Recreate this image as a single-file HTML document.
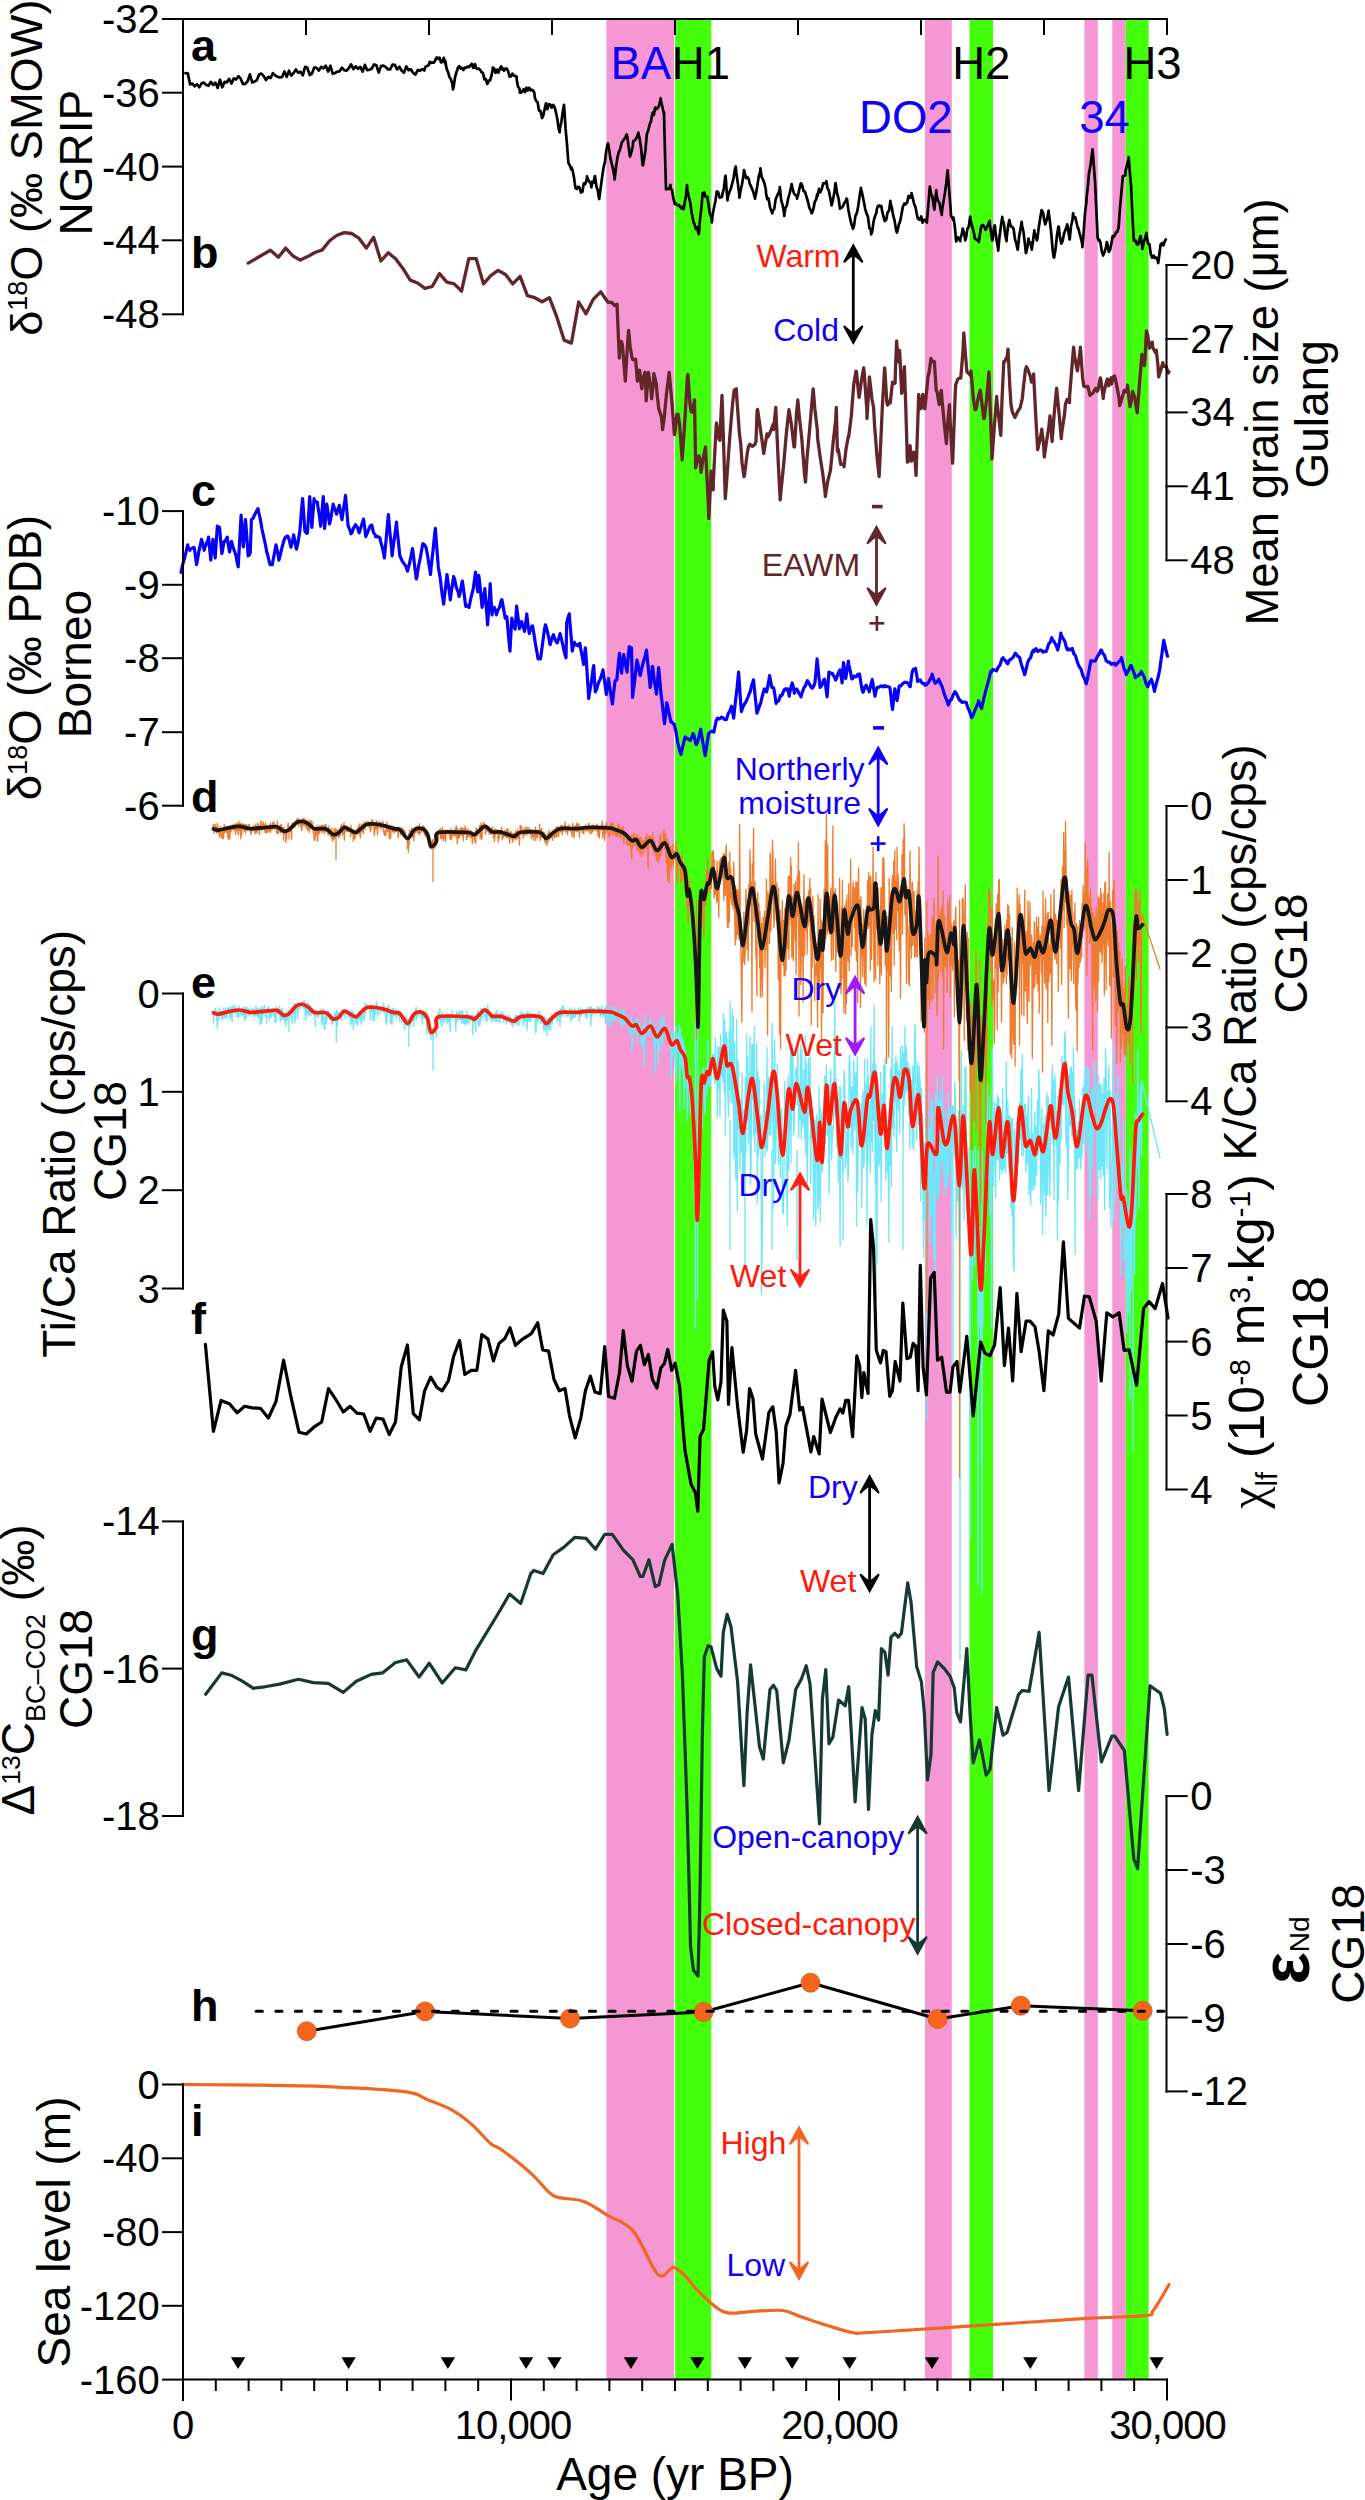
<!DOCTYPE html><html><head><meta charset="utf-8"><style>html,body{margin:0;padding:0;background:#fff;}svg{display:block;}text{font-family:"Liberation Sans", sans-serif;}</style></head><body>
<svg width="1365" height="2500" viewBox="0 0 1365 2500">
<rect x="0" y="0" width="1365" height="2500" fill="#fff"/>
<rect x="606.4" y="20" width="67.6" height="2359.5" fill="#F497D2"/>
<rect x="675.1" y="20" width="36.2" height="2359.5" fill="#43FF0C"/>
<rect x="925" y="20" width="26.8" height="2359.5" fill="#F497D2"/>
<rect x="969.5" y="20" width="23.5" height="2359.5" fill="#43FF0C"/>
<rect x="1084.4" y="20" width="13.4" height="2359.5" fill="#F497D2"/>
<rect x="1112.3" y="20" width="13.4" height="2359.5" fill="#F497D2"/>
<rect x="1125.7" y="20" width="22.9" height="2359.5" fill="#43FF0C"/>
<polyline points="185.5,73.1 187.8,73.3 190.1,84.5 192.4,83.6 194.7,86.3 197.0,84.3 199.3,87.3 201.6,83.3 203.9,82.6 206.2,85.0 208.5,85.8 210.8,81.9 213.1,85.0 215.4,82.8 217.7,87.9 220.0,79.7 222.3,87.3 224.6,81.9 226.9,82.3 229.2,78.8 231.5,83.5 233.8,78.4 236.1,79.4 238.4,76.2 240.7,78.7 243.0,84.1 245.3,83.8 247.6,81.4 249.9,74.4 252.2,82.5 254.5,81.5 256.8,80.3 259.1,74.6 261.4,73.6 263.7,76.1 266.0,80.0 268.3,76.9 270.6,78.0 272.9,73.1 275.2,75.4 277.5,76.8 279.8,77.5 282.1,77.0 284.4,71.5 286.7,76.9 289.0,70.7 291.3,75.6 293.6,73.1 295.9,69.4 298.2,72.7 300.5,71.7 302.8,75.4 305.1,66.8 307.4,67.8 309.7,75.0 312.0,73.5 314.3,67.3 316.6,67.8 318.9,70.5 321.2,66.9 323.5,68.3 325.8,65.7 328.1,71.5 330.4,65.7 332.7,73.8 335.0,73.0 337.3,71.6 339.6,71.4 341.9,67.6 344.2,70.2 346.5,70.8 348.8,68.2 351.1,64.3 353.4,69.2 355.7,66.4 358.0,68.8 360.3,66.9 362.6,71.6 364.9,64.9 367.2,70.2 369.5,69.7 371.8,68.5 374.1,64.4 376.4,65.3 378.7,72.6 381.0,66.1 383.3,65.6 385.6,66.9 387.9,69.3 390.2,69.3 392.5,64.7 394.8,64.9 397.1,69.4 399.4,66.8 401.7,70.7 404.0,72.6 406.3,66.4 408.6,70.2 410.9,69.4 413.2,73.0 415.5,74.6 417.8,69.9 420.0,70.8 421.4,69.5 422.8,69.2 424.2,70.5 425.6,66.6 427.0,65.9 428.4,65.4 429.8,61.8 431.2,62.9 432.6,62.6 434.0,62.7 435.4,59.8 436.8,57.4 438.2,58.9 439.6,57.6 441.0,62.4 442.4,61.8 443.8,57.8 445.2,64.0 445.3,60.9 446.6,68.7 448.0,71.9 449.4,76.9 450.8,79.1 452.2,83.4 453.0,89.5 453.6,87.0 455.0,77.7 456.4,72.2 457.4,69.7 457.8,67.9 459.2,66.1 460.6,68.5 462.0,67.9 463.4,70.0 464.8,67.5 466.2,67.8 467.6,66.5 469.0,67.1 470.4,65.4 471.8,63.8 473.2,67.9 474.6,67.5 475.0,64.2 476.0,67.8 477.4,69.0 478.8,68.5 480.2,69.9 481.6,72.3 483.0,73.0 484.4,79.4 485.8,79.1 487.2,84.0 488.0,82.9 488.6,80.6 490.0,80.5 491.4,76.0 492.5,70.8 492.8,67.5 494.2,68.6 495.6,72.8 497.0,69.7 498.4,72.7 499.8,68.7 501.2,66.3 502.6,69.6 503.5,68.6 504.0,70.8 505.4,68.7 506.8,68.7 508.2,71.4 509.6,76.7 511.0,76.5 512.4,73.6 513.8,75.6 515.2,75.8 516.6,76.7 516.7,79.6 518.0,86.7 519.4,88.3 520.0,92.7 520.8,92.7 522.2,91.4 523.6,89.2 525.0,92.1 526.4,87.7 527.7,89.5 527.8,90.5 529.2,87.8 530.6,90.4 532.0,89.7 533.4,90.8 534.3,92.7 534.8,97.4 536.2,100.9 537.6,102.3 539.0,110.6 540.4,110.9 541.8,116.7 542.0,118.0 543.2,115.9 544.6,109.5 545.3,106.0 546.0,103.4 547.4,109.1 548.8,104.2 550.2,104.5 551.6,107.7 553.0,104.9 554.0,106.0 554.4,106.6 555.8,111.7 557.2,118.4 558.6,128.1 559.6,132.3 560.0,128.2 561.4,121.7 562.8,111.5 564.0,104.8 564.2,107.1 565.6,128.9 567.0,144.4 568.4,163.0 569.8,165.4 571.2,169.3 571.6,167.5 572.6,170.6 574.0,177.6 575.0,185.0 575.4,188.0 576.8,188.9 578.2,186.6 579.6,187.7 581.0,192.6 581.5,191.6 582.4,191.9 583.8,183.3 585.2,184.2 586.6,179.9 587.0,176.3 588.0,179.5 589.4,181.8 590.8,183.3 591.4,187.3 592.2,181.7 593.6,182.9 594.7,176.3 595.0,176.2 596.4,186.3 597.8,190.5 599.0,198.2 599.2,199.0 600.6,188.8 602.0,178.0 603.4,168.5 604.6,163.0 604.8,163.3 606.2,151.0 607.6,143.9 608.0,143.3 609.0,148.9 610.4,158.1 611.8,164.0 613.2,169.2 614.5,177.4 614.6,179.5 616.0,167.0 617.4,157.9 618.8,151.7 619.0,152.0 620.2,148.9 621.6,143.2 623.0,140.7 624.4,138.7 625.8,136.8 626.6,134.5 627.2,136.0 628.6,146.6 630.0,156.5 631.4,152.2 632.8,146.0 633.2,141.0 634.2,140.8 635.6,139.4 637.0,137.0 638.4,132.6 638.7,134.5 639.8,139.4 641.2,149.3 642.6,165.1 643.0,165.3 644.0,159.3 645.4,150.7 646.8,134.4 647.5,132.3 648.2,130.7 649.6,124.6 651.0,121.2 652.4,113.5 653.0,112.5 653.8,114.9 655.2,107.5 656.6,109.1 657.4,108.0 658.0,107.7 659.4,104.6 660.7,98.2 660.8,100.2 662.2,106.0 663.6,112.6 664.0,112.5 665.0,153.7 666.0,189.5 666.4,188.2 667.8,188.9 669.2,188.9 670.5,185.0 670.6,187.8 672.0,190.3 673.4,198.2 674.8,204.1 675.0,202.6 676.2,204.0 677.6,205.4 679.0,204.9 680.4,207.2 681.8,208.5 683.2,206.1 683.7,209.2 684.6,203.5 686.0,195.5 687.0,185.0 687.4,189.7 688.8,196.7 690.2,202.4 691.6,212.6 693.0,219.5 693.6,222.4 694.4,223.6 695.8,229.0 697.2,227.1 698.6,234.2 699.0,233.4 700.0,219.5 701.4,207.8 702.7,193.0 702.8,193.0 704.2,192.5 705.6,196.7 707.0,196.5 707.3,196.8 708.4,203.7 709.8,213.4 711.2,216.9 711.9,222.4 712.6,214.8 714.0,207.8 715.4,201.2 716.5,193.1 716.8,191.4 718.2,192.1 719.6,197.8 721.0,197.2 722.0,196.8 722.4,194.1 723.8,188.8 725.2,176.9 725.6,175.7 726.6,189.8 727.5,200.4 728.0,196.4 729.4,192.1 730.8,188.8 732.2,183.7 733.6,177.7 735.0,168.7 735.7,166.6 736.4,173.0 737.8,183.1 739.2,193.7 739.4,197.7 740.6,190.5 742.0,184.3 743.4,176.0 744.0,170.2 744.8,173.4 746.2,178.2 747.6,177.1 749.0,179.7 749.5,183.0 750.4,185.2 751.8,188.1 753.2,191.7 754.6,196.9 755.0,198.6 756.0,193.8 757.4,185.1 758.8,176.2 760.2,171.7 760.4,168.4 761.6,176.8 763.0,179.6 764.4,183.3 765.8,189.2 766.0,193.1 767.2,199.3 768.6,198.5 770.0,207.3 771.4,210.9 772.3,213.3 772.8,210.5 774.2,209.1 775.6,199.6 777.0,195.9 778.4,193.4 779.7,189.5 779.8,187.0 781.2,200.4 782.6,204.9 784.0,212.5 784.2,216.0 785.4,207.9 786.8,205.6 788.2,198.4 789.6,193.5 791.0,187.6 791.6,184.0 792.4,188.1 793.8,192.9 795.2,194.9 796.6,195.6 797.0,198.6 798.0,195.3 799.4,188.9 800.8,183.4 801.6,184.0 802.2,185.6 803.6,191.2 805.0,191.8 806.4,196.5 807.8,201.0 809.2,207.3 810.6,210.2 811.7,213.3 812.0,213.0 813.4,209.0 814.8,201.7 816.2,199.4 817.2,194.0 817.6,196.0 819.0,188.9 820.4,192.3 821.8,189.0 823.2,183.3 824.6,183.4 826.0,182.6 826.4,181.2 827.4,188.0 828.8,190.4 830.2,197.5 831.6,205.3 831.9,204.1 833.0,199.6 834.4,192.3 835.5,183.0 835.8,184.5 837.2,193.7 838.6,198.8 840.0,208.7 841.4,207.9 842.8,206.4 844.2,203.1 845.6,201.4 846.5,198.6 847.0,199.1 848.4,210.0 849.8,217.0 851.2,223.5 852.6,227.2 853.0,228.8 854.0,225.9 855.4,216.1 856.8,213.2 858.2,206.2 859.6,196.2 861.0,187.8 861.2,189.5 862.4,194.5 863.8,201.5 865.2,209.1 866.6,213.6 868.0,216.9 869.4,228.2 870.8,229.7 871.2,234.3 872.2,231.7 873.6,221.4 875.0,216.2 876.4,212.8 876.7,209.6 877.8,206.4 879.2,205.4 880.6,206.7 881.3,206.0 882.0,210.2 883.4,216.5 884.8,221.0 885.0,220.6 886.2,219.7 887.6,212.3 889.0,210.8 890.4,200.9 890.5,203.2 891.8,207.4 893.2,215.7 894.6,220.6 896.0,229.8 896.9,232.5 897.4,231.3 898.8,224.8 900.2,221.0 901.6,213.4 903.0,206.0 903.3,206.0 904.4,203.5 905.8,204.3 907.2,202.4 908.6,195.8 910.0,197.7 911.4,196.3 911.5,193.1 912.8,198.4 914.2,204.2 915.6,207.4 917.0,215.1 918.0,218.8 918.4,218.9 919.8,219.8 921.2,216.4 922.6,222.7 924.0,220.1 925.4,219.6 926.8,222.5 927.0,220.6 928.2,206.5 929.6,189.1 929.8,186.7 931.0,193.9 932.4,196.9 933.8,206.9 934.4,209.6 935.2,201.0 936.3,190.4 936.6,194.7 938.0,200.7 939.4,202.8 940.8,210.4 941.8,215.0 942.2,209.5 943.6,200.7 945.0,192.4 946.4,182.2 947.6,170.4 947.8,172.9 949.2,190.6 950.6,208.6 951.0,215.9 952.0,217.3 953.4,220.3 953.5,217.6 954.8,226.6 956.0,239.5 956.2,241.4 957.6,237.1 959.0,238.8 960.2,241.2 960.4,238.4 961.8,234.3 962.7,228.6 963.2,229.7 964.6,236.3 965.3,240.4 966.0,238.1 967.4,228.7 968.8,226.5 970.2,216.5 970.3,218.5 971.6,224.5 973.0,229.3 974.4,235.4 974.5,237.8 975.8,239.3 977.2,240.0 978.6,241.0 978.8,242.0 980.0,233.8 981.3,226.0 981.4,226.3 982.8,225.0 984.2,226.5 985.5,229.4 985.6,230.0 987.0,227.3 988.4,223.8 989.7,221.0 989.8,224.0 991.2,233.4 992.2,240.4 992.6,240.3 994.0,228.2 994.8,225.2 995.4,231.0 996.8,241.5 998.1,248.8 998.2,250.6 999.6,236.2 1001.0,225.5 1002.3,216.8 1002.4,220.0 1003.8,222.6 1005.2,234.8 1006.6,241.2 1006.6,238.7 1008.0,226.4 1009.1,221.0 1009.4,220.0 1010.8,226.5 1012.2,226.8 1013.6,229.0 1014.1,232.8 1015.0,239.4 1016.4,243.7 1017.5,249.6 1017.8,249.5 1019.2,236.0 1020.6,228.5 1021.7,221.8 1022.0,225.2 1023.4,231.3 1024.8,242.9 1025.9,253.0 1026.2,252.5 1027.6,246.3 1028.5,238.7 1029.0,243.3 1030.4,242.5 1031.8,249.6 1033.2,239.2 1034.4,230.3 1034.6,232.8 1036.0,236.8 1036.9,240.4 1037.4,238.6 1038.8,227.2 1040.2,218.2 1041.6,210.1 1041.9,210.9 1043.0,212.3 1044.4,221.2 1045.3,224.4 1045.8,222.8 1047.2,218.2 1048.6,210.7 1048.7,212.6 1050.0,222.2 1051.4,234.8 1052.8,251.3 1053.7,257.2 1054.2,257.4 1055.6,248.6 1057.0,235.0 1058.4,226.5 1058.8,226.9 1059.8,236.5 1061.2,242.8 1061.3,243.7 1062.6,241.1 1064.0,233.8 1065.4,230.1 1066.8,225.8 1067.2,224.4 1068.2,230.0 1069.6,239.5 1069.7,239.5 1071.0,226.4 1072.4,220.1 1073.1,213.4 1073.8,217.6 1075.2,217.2 1076.6,222.9 1078.0,228.7 1078.2,227.7 1079.4,232.6 1080.8,237.8 1082.2,244.0 1082.4,247.1 1083.6,233.0 1085.0,213.2 1086.4,202.3 1086.6,197.4 1087.8,187.2 1089.1,172.1 1089.2,172.7 1090.6,164.4 1092.0,153.6 1092.5,149.4 1093.4,160.0 1094.8,178.6 1095.0,180.5 1096.2,206.4 1097.5,234.5 1097.6,237.9 1099.0,240.9 1099.2,239.5 1100.4,242.3 1101.8,251.5 1103.2,255.5 1103.4,254.7 1104.6,252.0 1106.0,247.0 1106.8,242.0 1107.4,243.6 1108.8,252.0 1109.3,251.3 1110.2,249.7 1111.6,242.3 1112.7,236.1 1113.0,237.5 1114.4,236.1 1115.8,232.5 1116.1,232.8 1117.2,232.0 1118.6,227.7 1120.0,207.8 1121.4,192.4 1122.8,176.3 1124.2,175.7 1125.3,175.5 1125.6,170.7 1127.0,165.3 1128.4,159.5 1128.7,157.0 1129.8,171.9 1131.2,187.3 1131.2,189.0 1132.6,219.0 1133.8,239.5 1134.0,240.8 1135.4,240.4 1136.8,244.2 1138.0,244.6 1138.2,244.4 1139.6,239.4 1140.5,236.1 1141.0,238.4 1142.2,246.3 1142.4,248.9 1143.8,242.1 1145.2,237.9 1146.4,232.8 1146.6,235.4 1148.0,243.4 1149.4,243.9 1150.8,254.3 1151.2,255.5 1152.2,257.7 1153.6,255.6 1154.8,258.0 1155.0,257.7 1156.4,257.5 1157.8,260.6 1158.2,263.1 1159.2,255.6 1160.6,244.4 1160.7,246.3 1162.0,243.0 1163.4,245.3 1164.8,241.2 1165.8,239.5" fill="none" stroke="#000" stroke-width="2.7" stroke-linejoin="round" stroke-linecap="round" />
<polyline points="248.2,263.1 257.8,257.5 270.4,250.2 278.4,257.2 285.7,248.1 293.0,256.0 300.3,260.1 307.7,256.6 315.0,252.5 322.3,249.9 329.6,240.8 337.0,235.2 344.3,232.6 351.6,233.5 358.9,238.2 366.3,248.1 373.6,237.3 380.9,261.0 388.2,252.8 395.6,258.7 402.9,268.4 410.2,280.1 417.5,283.0 424.9,288.3 432.2,286.5 439.5,273.6 446.8,282.1 454.2,283.9 461.5,291.2 468.8,258.7 476.2,258.7 483.5,283.9 490.8,275.7 498.1,270.4 505.5,274.5 512.8,283.9 520.1,276.3 527.4,295.6 534.8,297.7 542.1,301.8 549.4,297.7 556.7,316.7 564.1,340.1 571.4,343.1 578.7,302.0 586.0,313.8 593.4,299.1 600.7,291.8 607.7,302.0 612.0,302.7 614.6,305.5 617.1,304.2 617.2,308.6 619.3,358.0 619.8,350.0 621.5,341.5 622.4,345.0 625.0,376.5 625.3,381.1 627.6,343.1 628.6,330.5 630.2,347.0 631.9,356.9 632.8,359.7 635.4,360.2 635.6,359.1 637.4,381.1 638.0,378.8 639.6,370.1 640.6,380.5 641.8,388.8 643.2,377.5 645.1,372.3 645.8,389.8 646.2,400.9 648.4,372.3 651.0,389.7 651.6,398.7 653.6,380.6 653.8,373.4 656.2,383.3 657.1,394.3 658.8,409.0 661.4,416.7 662.6,429.5 664.0,419.6 666.6,392.9 669.2,372.3 671.8,400.6 672.5,409.7 674.4,434.6 674.7,433.8 677.0,414.3 678.0,414.1 679.6,424.4 682.2,459.9 682.4,456.9 684.8,421.1 687.4,377.1 687.9,374.5 690.0,404.1 691.2,411.9 692.6,412.1 694.5,399.8 695.2,438.5 695.6,467.9 697.8,458.9 698.9,455.8 700.4,462.7 701.1,472.3 703.0,459.1 705.5,447.0 705.6,450.6 708.2,501.5 708.8,518.5 710.8,477.9 711.0,471.2 713.2,489.9 713.4,480.5 716.0,429.1 716.5,422.9 718.6,437.8 719.8,440.4 721.2,410.6 722.0,395.4 723.8,450.8 725.3,498.7 726.4,484.7 729.0,447.5 729.7,438.2 731.6,414.7 733.0,399.8 734.2,390.2 736.3,388.8 736.8,397.8 739.4,433.1 740.7,443.7 742.0,462.4 744.0,476.7 744.6,474.6 747.2,453.4 748.4,447.0 749.8,444.3 752.4,446.4 755.0,444.3 756.0,441.5 757.1,410.8 757.6,409.4 760.2,427.7 762.8,446.1 763.7,453.6 765.4,443.5 767.0,433.8 768.0,436.9 770.6,431.5 773.2,424.1 773.6,429.5 775.8,407.5 778.4,465.9 780.2,499.8 781.0,490.8 783.6,465.2 786.2,435.0 788.8,410.9 789.0,409.7 791.4,424.6 794.0,446.9 794.5,447.0 796.6,412.2 797.8,399.8 799.2,415.4 801.8,438.7 804.4,472.8 805.5,482.2 807.0,458.4 809.6,429.8 812.2,399.1 813.2,388.8 814.8,408.4 817.4,430.6 817.6,438.2 820.0,455.9 822.6,472.6 825.2,493.1 825.3,496.5 827.8,480.8 830.4,470.6 831.9,455.8 833.0,443.5 835.6,420.7 836.3,407.5 837.4,451.4 838.2,449.3 840.8,464.4 843.4,463.8 844.0,466.8 846.0,449.1 848.4,436.0 848.6,437.3 851.2,417.1 853.8,384.0 856.0,371.2 856.4,371.5 859.0,397.4 859.3,396.5 861.6,379.7 863.7,367.9 864.2,372.5 866.8,409.5 867.0,418.5 869.2,381.1 869.4,376.8 872.0,399.3 873.6,407.5 874.6,425.9 877.2,458.8 879.1,476.7 879.8,462.9 882.4,405.7 884.6,367.9 885.0,372.0 886.8,402.0 887.6,405.1 890.0,400.5 890.2,403.0 892.5,382.1 892.8,383.9 895.1,383.1 895.4,371.4 896.6,341.0 898.0,359.3 898.2,361.5 899.6,350.3 900.6,370.5 901.7,393.3 903.2,380.0 904.4,366.7 905.8,408.4 907.4,462.1 908.4,461.3 910.1,445.6 911.0,460.2 911.5,461.0 913.6,452.1 914.6,453.8 916.1,475.4 916.2,469.8 918.7,394.4 918.8,399.6 920.8,408.7 921.4,401.7 922.8,394.4 924.0,407.9 924.9,408.7 926.6,391.4 928.0,376.9 929.2,371.9 931.0,358.5 931.8,361.7 934.1,361.5 934.4,362.2 936.2,390.3 937.0,391.5 939.2,404.6 939.6,398.9 941.3,390.3 942.2,401.9 944.8,429.2 946.4,443.6 947.4,426.6 949.5,404.6 950.0,418.7 952.6,463.1 955.2,394.5 955.6,385.1 957.8,379.0 960.4,377.8 960.8,378.0 963.0,350.6 963.8,332.8 965.6,356.2 966.9,371.8 968.2,373.0 970.8,375.9 971.0,370.8 973.4,399.1 975.1,409.7 976.0,409.5 978.6,395.7 980.3,390.3 981.2,397.4 983.8,418.7 984.4,417.9 986.4,400.9 988.9,371.8 989.0,375.6 991.6,445.9 992.0,459.0 994.2,428.1 996.7,396.4 996.8,400.2 999.4,422.8 1000.8,435.4 1002.0,400.0 1003.8,361.5 1004.6,361.7 1007.2,356.4 1008.0,349.2 1009.8,386.0 1011.0,404.6 1012.4,412.1 1015.0,417.4 1016.2,414.9 1017.6,411.6 1020.2,407.6 1022.3,398.5 1022.8,393.2 1025.4,369.6 1026.4,366.7 1028.0,369.8 1030.6,377.1 1031.5,382.1 1033.2,380.6 1033.6,373.8 1035.8,416.8 1037.7,449.7 1038.4,446.7 1041.0,434.7 1041.8,429.2 1043.6,444.6 1044.3,456.9 1046.2,443.6 1048.8,426.9 1050.0,415.9 1051.4,431.7 1052.1,441.5 1054.0,415.9 1056.6,388.2 1059.2,414.9 1061.3,438.5 1061.8,432.2 1064.4,415.1 1065.4,404.6 1067.0,399.5 1069.5,402.6 1069.6,396.3 1072.2,363.9 1073.6,347.2 1074.8,357.3 1077.1,369.7 1077.4,370.8 1080.0,351.8 1080.4,347.2 1082.6,377.7 1083.8,386.2 1085.2,386.7 1087.8,386.5 1090.0,395.4 1090.4,395.0 1093.0,393.0 1095.6,388.4 1097.2,391.3 1098.2,389.0 1100.3,377.9 1100.8,379.4 1103.3,398.5 1103.4,394.9 1106.0,383.6 1107.4,379.0 1108.6,385.8 1111.2,377.8 1111.5,384.1 1113.8,376.3 1114.6,375.9 1116.4,383.7 1119.0,397.9 1119.7,405.6 1121.6,399.8 1124.2,390.4 1126.8,392.0 1127.5,385.1 1129.4,401.5 1130.0,406.7 1132.0,396.8 1132.5,391.3 1134.6,396.9 1137.2,412.8 1139.8,380.1 1141.9,354.4 1142.4,357.9 1144.4,365.6 1145.0,359.3 1146.4,330.8 1147.6,334.5 1149.5,348.2 1150.2,346.1 1152.2,342.1 1152.8,347.6 1155.4,352.5 1156.3,350.3 1158.0,365.9 1158.7,376.9 1160.6,370.7 1162.8,362.6 1163.2,366.3 1165.8,365.8 1168.4,373.0 1169.0,371.8" fill="none" stroke="#62262A" stroke-width="3.3" stroke-linejoin="round" stroke-linecap="round" />
<polyline points="181.0,572.3 182.8,564.1 184.6,558.1 186.4,550.7 187.7,544.8 188.2,547.2 189.9,550.3 190.0,549.2 191.8,548.5 193.6,547.3 194.3,548.1 195.4,555.5 196.5,564.6 197.2,561.8 199.0,550.8 200.8,542.9 201.5,539.3 202.6,542.9 204.2,550.3 204.4,549.0 206.2,544.1 208.0,540.0 208.6,537.1 209.8,550.0 210.8,560.2 211.6,551.0 213.0,539.3 213.4,542.0 215.2,558.0 217.0,530.9 217.4,526.2 218.8,528.1 219.6,527.3 220.6,540.2 221.8,553.6 222.4,551.3 224.0,541.5 224.2,542.3 226.0,539.6 227.3,537.1 227.8,541.8 229.5,551.4 229.6,551.9 231.4,541.7 231.6,541.5 233.2,547.8 235.0,552.5 236.0,555.8 236.8,560.6 238.2,566.8 238.6,559.9 240.4,527.4 241.1,515.2 242.2,530.7 243.3,547.0 244.0,538.1 245.5,519.6 245.8,523.2 247.6,547.6 248.1,555.8 249.4,554.9 250.3,552.5 251.2,526.5 251.4,519.6 253.0,518.5 254.8,514.5 256.6,511.1 258.0,508.6 258.4,511.4 260.2,518.4 262.0,529.1 263.8,537.4 265.6,545.5 266.8,552.5 267.4,553.7 269.2,561.4 270.1,564.6 271.0,563.8 272.3,564.6 272.8,561.8 274.6,552.6 276.0,544.8 276.4,546.6 278.2,555.3 278.9,560.2 280.0,556.0 281.8,548.3 283.6,541.5 284.4,539.3 285.4,537.3 287.2,536.1 287.7,536.0 289.0,539.0 290.8,546.8 291.0,547.0 292.6,541.0 293.6,534.9 294.4,538.5 296.2,548.4 296.5,549.2 298.0,542.6 299.8,531.6 301.6,509.0 302.6,498.7 303.4,509.1 304.8,530.5 305.2,531.8 307.0,533.4 307.5,532.7 308.8,511.8 309.7,496.5 310.6,508.0 311.9,527.3 312.4,520.5 314.1,498.7 314.2,500.0 316.0,501.8 317.4,502.0 317.8,505.9 319.6,517.2 320.7,526.2 321.4,519.3 323.2,497.2 323.3,496.5 324.6,528.4 325.0,524.7 326.8,504.2 328.6,516.2 329.5,524.0 330.4,520.7 332.2,509.9 333.2,504.2 334.0,507.3 335.8,511.1 336.5,514.1 337.6,511.0 339.3,505.3 339.4,506.1 341.2,515.7 342.0,519.6 343.0,512.2 344.8,501.0 345.5,495.4 346.6,507.9 348.1,526.2 348.4,526.3 350.2,530.6 351.0,533.8 352.0,532.6 353.8,527.5 355.6,524.6 355.8,525.1 357.4,527.4 359.1,532.7 359.2,532.9 361.0,527.0 362.8,521.4 363.5,519.1 364.6,526.4 365.7,536.7 366.4,535.0 368.2,530.9 370.0,526.3 371.2,525.1 371.8,525.1 373.6,533.0 375.4,535.0 375.6,536.7 377.2,536.6 379.0,537.1 380.0,538.2 380.8,542.1 382.6,548.5 384.4,558.0 386.2,538.4 388.0,518.6 388.4,514.7 389.8,531.3 391.6,548.7 392.1,555.8 393.4,545.3 395.2,532.1 396.5,522.2 397.0,528.8 398.8,545.7 399.8,555.8 400.6,557.3 402.4,561.5 404.2,563.9 406.0,566.7 407.5,571.2 407.8,569.8 409.6,563.0 411.4,554.3 412.5,548.6 413.2,553.4 415.0,569.1 416.3,578.9 416.8,577.4 418.6,565.9 420.4,557.3 422.2,547.0 422.9,543.7 424.0,544.3 425.8,546.9 426.2,548.1 427.6,555.7 429.4,567.3 430.5,574.5 431.2,566.4 433.0,550.7 434.8,532.7 435.4,528.4 436.6,545.2 438.2,565.7 438.4,567.4 440.2,578.1 442.0,593.2 443.7,604.2 443.8,602.3 445.6,587.0 447.0,574.5 447.4,577.7 449.2,590.8 450.3,599.8 451.0,594.2 452.8,582.1 453.6,576.7 454.6,579.1 456.4,587.9 458.2,592.0 459.1,596.5 460.0,593.3 461.8,583.0 462.4,581.1 463.6,589.7 465.4,603.7 465.7,606.4 467.2,605.4 469.0,607.5 470.8,598.4 472.6,591.2 473.3,588.6 474.4,580.2 475.5,572.1 476.2,579.6 477.7,591.9 478.0,589.0 478.8,575.4 479.8,583.6 481.6,602.6 482.1,607.3 483.4,597.4 484.9,588.6 485.2,593.6 487.0,616.2 487.6,624.8 488.8,607.1 490.2,583.7 490.6,590.8 492.0,614.9 492.4,612.3 494.2,607.3 496.0,611.9 496.4,614.9 497.8,610.2 499.6,607.2 501.4,599.9 501.9,599.6 503.2,606.9 505.0,616.7 505.2,618.2 506.8,616.7 506.9,617.1 508.6,636.8 510.0,651.2 510.4,643.0 511.8,618.2 512.2,620.2 514.0,626.1 515.1,629.2 515.8,619.9 516.6,606.2 517.6,613.8 519.4,628.7 519.5,628.1 521.2,622.6 521.6,621.5 523.0,626.5 524.5,631.4 524.8,629.4 526.6,615.7 526.7,613.8 528.4,628.0 529.3,633.6 530.2,630.3 532.0,626.1 532.6,625.9 533.8,633.2 535.6,644.9 537.4,654.8 538.1,658.9 539.2,658.3 540.3,658.9 541.0,655.7 542.8,641.5 544.6,628.8 545.4,624.8 546.4,627.5 548.2,634.8 550.0,644.5 550.2,644.6 551.8,638.5 553.5,634.7 553.6,635.6 555.4,640.3 556.8,642.4 557.2,642.9 559.0,637.5 560.1,633.6 560.8,636.2 562.6,644.2 564.4,652.3 566.0,657.8 566.2,648.4 566.7,622.6 568.0,617.5 569.3,613.8 569.8,621.1 571.6,642.2 572.2,651.2 573.4,645.8 574.4,642.4 575.2,644.8 577.0,644.9 577.7,645.7 578.8,643.9 579.9,643.5 580.6,648.4 582.4,657.5 583.6,664.4 584.2,657.3 585.4,647.9 586.0,655.6 587.8,683.9 588.7,698.5 589.6,692.0 591.4,682.1 593.2,668.0 593.7,665.5 595.0,688.1 595.3,691.9 596.8,688.7 598.6,682.2 600.4,678.9 602.2,673.0 603.0,669.9 604.0,677.3 605.8,690.0 606.3,694.5 607.6,685.0 608.5,678.7 609.4,685.8 611.2,696.3 612.4,704.0 613.0,697.9 614.8,683.1 615.1,680.9 616.6,679.9 616.8,679.8 618.4,663.2 619.5,653.4 620.2,660.2 621.6,673.2 622.0,668.3 623.8,654.5 625.6,665.1 627.1,672.1 627.4,667.6 629.2,646.7 629.3,646.8 631.0,647.9 631.5,647.9 632.6,697.4 632.8,695.1 634.6,681.6 636.4,665.1 637.0,660.0 638.2,665.7 640.0,675.1 640.3,675.4 641.8,668.0 643.6,661.1 645.4,655.1 646.5,650.1 647.2,657.7 649.0,675.1 650.2,687.5 650.8,683.3 652.4,666.6 652.6,666.4 654.4,681.5 656.2,691.6 656.4,694.1 658.0,676.0 658.6,667.7 659.8,679.8 661.2,696.3 661.6,698.2 663.4,714.6 664.5,723.7 665.2,718.4 666.7,702.9 667.0,703.4 668.8,712.1 670.6,720.4 671.1,722.2 672.4,722.4 674.2,724.7 674.4,724.8 676.0,731.8 677.7,742.4 677.8,742.6 679.6,750.2 681.0,754.5 681.4,752.4 683.2,744.8 685.0,737.1 685.4,736.9 686.8,738.6 688.6,739.1 689.8,740.2 690.4,740.3 692.2,736.2 693.1,733.6 694.0,735.3 695.8,743.9 696.4,744.6 697.6,741.8 699.4,735.1 700.8,729.2 701.2,732.7 703.0,743.0 704.8,753.9 705.2,755.6 706.6,746.8 708.4,734.6 708.5,733.6 710.2,732.1 712.0,731.0 713.8,732.2 714.0,731.4 715.6,723.7 716.2,720.4 717.4,718.2 719.2,719.0 721.0,717.8 721.6,717.1 722.8,717.7 724.6,719.5 726.0,719.3 726.4,719.6 728.2,713.7 730.0,710.8 731.5,706.2 731.8,707.8 733.6,717.9 733.7,718.2 735.4,701.9 737.2,686.7 738.6,672.1 739.0,677.6 740.8,704.6 741.4,711.6 742.6,707.9 744.3,704.0 744.4,704.3 746.2,701.4 748.0,697.0 749.8,692.3 750.2,691.9 751.6,685.4 753.4,680.1 753.5,679.8 755.2,696.5 756.8,712.7 757.0,713.2 758.8,708.3 760.0,704.2 760.6,703.7 762.4,695.7 764.2,689.3 764.4,688.9 766.0,691.2 766.6,691.8 767.8,686.2 769.5,676.4 769.6,675.6 771.4,685.0 771.7,687.4 773.2,687.3 773.9,688.9 775.0,695.6 776.1,703.5 776.8,701.7 778.6,700.9 780.4,695.4 780.5,696.2 782.2,694.9 784.0,690.0 784.2,690.3 785.8,688.7 787.6,690.5 787.8,688.9 789.3,696.2 789.4,694.4 791.2,686.3 792.2,683.0 793.0,685.6 794.4,693.3 794.8,691.1 796.6,688.9 798.4,692.1 798.8,693.3 800.2,694.7 801.0,696.9 802.0,693.2 803.8,688.0 805.6,685.5 806.9,681.5 807.4,680.7 809.2,683.6 811.0,687.0 812.0,688.1 812.8,687.9 814.6,684.0 814.9,683.0 816.4,667.2 817.1,658.8 818.2,669.9 820.0,687.4 820.1,687.4 821.8,685.4 823.6,679.9 824.5,679.3 825.4,684.0 827.1,696.9 827.2,695.9 828.9,672.0 829.0,672.1 830.8,672.9 832.5,673.5 832.6,674.6 834.4,676.6 835.5,680.1 836.2,679.1 838.0,674.0 839.8,669.8 839.9,669.8 841.6,679.2 842.1,683.0 843.4,663.3 843.5,662.5 845.2,675.2 845.7,678.6 847.0,670.3 848.4,661.0 848.8,664.5 850.6,672.4 851.6,678.6 852.4,678.9 854.2,676.0 856.0,676.9 857.4,675.7 857.8,674.3 859.6,674.2 861.4,685.9 862.6,691.8 863.2,692.2 865.0,686.6 866.2,685.2 866.8,687.5 868.6,689.6 869.2,691.8 870.4,686.3 872.1,680.1 872.2,679.4 874.0,690.5 875.0,696.2 875.8,691.7 877.2,687.4 877.6,687.9 879.4,686.9 881.2,685.8 881.6,685.9 883.0,686.8 884.8,685.6 886.0,686.7 886.6,686.3 888.4,686.7 889.7,687.4 890.2,689.6 892.0,706.1 892.6,709.4 893.8,696.9 894.8,688.9 895.6,691.9 897.0,700.6 897.4,698.9 899.2,685.9 901.0,685.8 902.8,683.5 904.6,682.4 905.1,682.3 906.4,682.3 908.2,683.4 910.0,686.6 910.2,686.7 911.8,674.7 912.4,671.3 913.6,669.1 915.4,669.9 915.6,668.4 917.2,677.9 917.5,681.5 919.0,680.3 920.4,680.1 920.8,681.4 922.6,683.4 924.4,683.5 924.8,685.2 926.2,684.9 928.0,682.9 928.5,682.3 929.8,679.9 931.6,676.9 932.2,674.2 933.4,678.8 935.1,683.0 935.2,683.2 937.0,682.0 938.8,679.3 938.8,679.3 940.6,683.5 942.4,687.4 944.2,693.8 946.0,698.5 947.8,703.1 948.3,705.0 949.6,700.9 951.4,699.7 953.2,694.7 954.9,691.8 955.0,691.7 956.8,694.4 958.6,698.4 960.0,700.6 960.4,700.4 962.2,702.3 964.0,702.0 965.8,702.4 966.2,702.3 967.6,707.1 969.4,711.1 971.2,716.4 971.7,717.7 973.0,715.3 974.8,710.7 976.6,706.3 978.4,702.3 978.5,700.8 980.2,705.3 981.5,708.5 982.0,706.7 983.8,698.4 985.6,691.4 987.4,684.8 989.2,677.9 990.8,671.5 991.0,672.7 992.8,669.5 994.6,670.1 996.4,670.9 996.9,670.0 998.2,667.3 1000.0,665.0 1001.8,659.2 1003.1,657.7 1003.6,659.2 1005.4,660.5 1007.2,663.4 1007.7,663.8 1009.0,660.6 1010.8,659.2 1012.6,658.0 1014.4,655.2 1015.4,653.1 1016.2,654.4 1018.0,656.3 1019.8,657.5 1020.0,659.2 1021.6,665.2 1023.4,670.4 1024.6,674.6 1025.2,672.9 1027.0,665.4 1027.7,662.3 1028.8,659.8 1030.6,657.7 1032.4,651.6 1033.8,650.0 1034.2,651.5 1036.0,648.7 1037.8,651.5 1039.6,650.3 1040.0,650.0 1041.4,650.2 1043.2,652.2 1045.0,651.2 1046.2,651.5 1046.8,650.0 1048.6,644.1 1050.4,641.9 1051.7,637.7 1052.2,639.2 1054.0,641.5 1055.8,644.7 1057.6,649.3 1057.8,650.0 1059.4,642.7 1060.9,633.1 1061.2,635.0 1063.0,638.2 1064.8,641.3 1066.6,648.3 1067.7,650.0 1068.4,648.8 1070.2,649.9 1072.0,648.6 1072.3,648.5 1073.8,653.8 1075.6,655.8 1077.4,662.4 1079.2,666.7 1081.0,669.0 1082.8,675.4 1084.6,679.1 1086.2,683.8 1086.4,683.4 1088.2,675.3 1090.0,665.3 1090.8,660.8 1091.8,660.8 1093.6,661.1 1095.4,660.8 1097.2,656.8 1099.0,654.3 1100.8,650.0 1101.5,650.0 1102.6,653.2 1104.4,655.3 1106.2,660.8 1108.0,662.1 1109.8,662.1 1110.8,663.8 1111.6,664.3 1113.4,663.3 1115.2,663.8 1115.4,665.4 1117.0,663.8 1118.8,661.8 1120.6,660.1 1121.5,657.7 1122.4,661.5 1124.2,669.0 1126.0,672.7 1126.2,674.6 1127.8,671.8 1129.6,668.2 1130.8,665.4 1131.4,666.0 1133.2,670.7 1135.0,675.8 1135.4,677.7 1136.8,676.4 1138.6,675.4 1140.4,673.3 1141.5,671.5 1142.2,673.5 1144.0,676.4 1145.8,682.9 1147.6,686.7 1147.7,686.9 1149.4,682.3 1151.2,680.0 1151.4,679.2 1153.0,684.7 1154.5,691.5 1154.8,689.6 1156.6,682.6 1158.4,676.0 1160.0,668.5 1160.2,665.7 1162.0,653.3 1163.7,640.8 1163.8,640.3 1165.6,648.7 1167.4,656.1 1167.7,656.2" fill="none" stroke="#0800F8" stroke-width="3.2" stroke-linejoin="round" stroke-linecap="round" />
<polyline points="213.0,1011.3 213.6,1022.8 214.2,1011.1 214.7,1011.8 215.5,1008.3 216.0,1011.3 216.7,1017.1 217.4,1028.6 218.0,1011.6 218.7,1020.3 219.3,1007.5 220.1,1012.0 220.8,1010.9 221.6,1018.4 222.1,1011.2 222.9,1019.4 223.5,1008.0 224.3,1016.3 225.0,1018.2 225.4,1011.2 225.9,1007.1 226.6,1018.6 227.3,1010.6 228.1,1008.1 228.6,1013.3 229.1,1007.5 229.7,1018.6 230.4,1014.4 231.1,1006.9 231.6,1017.5 232.1,1021.8 232.5,1005.4 233.0,1012.2 233.8,1007.4 234.4,1013.6 235.1,1005.2 235.6,1012.7 236.4,1009.5 237.0,1015.1 237.5,1017.5 238.3,1006.3 238.8,1017.2 239.3,1007.0 240.1,1011.8 240.9,1015.2 241.4,1012.6 242.1,1008.0 242.6,1015.8 243.3,1012.0 243.9,1006.9 244.5,1020.3 244.9,1018.1 245.7,1007.3 246.2,1018.7 246.7,1006.8 247.3,1014.0 247.8,1013.1 248.3,1008.8 249.1,1016.0 249.7,1009.0 250.3,1014.4 250.8,1011.5 251.4,1014.4 252.0,1008.0 252.6,1013.5 253.3,1009.1 253.9,1017.0 254.5,1009.1 255.3,1015.9 255.9,1005.7 256.4,1008.9 256.9,1016.2 257.6,1008.5 258.4,1018.3 259.2,1008.3 259.7,1015.7 260.2,1024.6 260.7,1008.5 261.3,1023.6 261.8,1006.5 262.3,1020.6 262.7,1007.7 263.4,1013.8 263.9,1010.0 264.6,1005.7 265.2,1016.5 266.0,1010.2 266.5,1023.1 267.0,1010.2 267.6,1007.9 268.0,1009.8 268.8,1006.6 269.4,1019.9 270.1,1009.9 270.9,1013.6 271.3,1017.6 272.0,1012.0 272.8,1008.2 273.3,1009.0 273.8,1016.2 274.5,1009.5 274.9,1022.3 275.5,1013.2 276.0,1022.4 276.5,1006.7 277.2,1014.4 277.8,1008.6 278.2,1012.8 278.9,1013.8 279.5,1006.4 280.2,1021.5 280.8,1018.8 281.3,1008.7 282.0,1020.2 282.4,1012.4 283.1,1009.8 283.6,1019.3 284.4,1013.3 284.9,1022.2 285.6,1016.7 286.1,1026.2 286.8,1011.1 287.4,1019.9 288.1,1015.6 288.9,1009.8 289.5,1014.8 290.3,1014.8 291.1,1017.9 291.7,1016.8 292.3,1023.2 292.9,1007.1 293.3,1013.2 293.8,1003.8 294.4,1012.0 295.0,1023.2 295.5,1003.6 296.1,1010.0 296.8,1004.5 297.6,1018.4 298.3,1003.1 298.8,1008.3 299.3,1003.6 299.9,1008.1 300.4,1009.0 301.1,1002.0 301.7,1003.9 302.2,1003.2 302.8,1007.2 303.4,1000.8 303.9,1008.6 304.4,1000.3 304.9,1004.5 305.5,1020.7 306.3,1003.7 306.7,1014.8 307.5,1013.8 308.0,1002.0 308.7,1009.5 309.3,1016.0 310.0,1006.5 310.5,1005.4 311.1,1015.5 311.6,1008.9 312.4,1012.3 313.1,1010.3 313.6,1008.9 314.3,1016.4 314.8,1015.1 315.4,1010.8 316.0,1009.9 316.6,1010.7 317.1,1016.3 317.6,1011.1 318.1,1017.8 318.9,1014.5 319.7,1010.9 320.5,1009.3 321.2,1010.6 321.8,1024.7 322.5,1016.2 323.1,1008.4 323.5,1019.7 324.3,1028.5 325.0,1029.6 325.5,1012.2 326.3,1023.2 327.0,1016.1 327.8,1011.1 328.2,1016.1 328.8,1011.0 329.4,1019.1 330.2,1014.7 330.7,1019.7 331.2,1014.1 331.7,1024.0 332.5,1016.9 332.9,1024.1 333.4,1016.2 334.1,1020.0 334.9,1012.2 335.5,1017.3 335.9,1022.0 336.5,1010.2 337.2,1026.7 337.7,1011.7 338.2,1019.8 338.7,1012.7 339.4,1018.4 340.1,1013.4 340.7,1016.8 341.2,1013.4 341.6,1020.6 342.1,1011.8 342.6,1010.2 343.2,1010.5 343.8,1014.0 344.6,1009.2 345.3,1017.9 345.8,1013.6 346.4,1009.6 347.2,1010.2 347.9,1014.7 348.5,1017.7 349.2,1010.3 349.8,1010.5 350.6,1025.4 351.0,1011.1 351.8,1012.7 352.3,1022.7 352.8,1011.4 353.4,1018.9 353.8,1013.4 354.3,1018.2 354.9,1014.3 355.6,1023.1 356.0,1014.1 356.5,1018.1 357.2,1024.0 357.7,1025.4 358.5,1012.1 358.9,1019.4 359.7,1012.6 360.4,1018.0 361.2,1024.2 362.0,1008.3 362.7,1013.6 363.2,1020.8 363.8,1020.8 364.6,1014.3 365.1,1002.8 365.7,1013.4 366.1,1004.8 366.7,1009.9 367.3,1004.6 367.8,1008.8 368.5,1005.8 369.1,1006.6 369.8,1008.9 370.6,1019.8 371.0,1005.2 371.7,1011.0 372.2,1005.7 372.7,1013.5 373.2,1021.4 373.8,1004.8 374.3,1020.2 374.9,1015.3 375.6,1011.2 376.3,1002.8 376.9,1001.8 377.6,1016.9 378.3,1007.0 378.7,1009.5 379.4,1006.7 380.0,1013.7 380.5,1006.7 381.0,1010.3 381.7,1007.6 382.3,1006.3 382.9,1012.7 383.7,1003.1 384.3,1012.0 384.9,1012.0 385.4,1016.4 386.2,1024.4 386.8,1008.1 387.5,1016.5 388.0,1005.8 388.7,1004.9 389.4,1014.0 390.0,1009.4 390.5,1023.2 391.2,1009.2 392.0,1024.8 392.7,1008.9 393.4,1008.0 393.9,1016.5 394.4,1011.8 395.1,1015.8 395.6,1009.0 396.1,1011.1 396.6,1018.8 397.3,1010.5 398.1,1010.6 398.5,1015.5 399.1,1010.6 399.7,1021.5 400.3,1012.3 401.0,1011.7 401.8,1022.8 402.4,1020.1 403.1,1015.4 403.5,1019.5 404.1,1023.7 404.8,1029.4 405.6,1015.7 406.2,1019.5 406.8,1017.8 407.5,1026.1 408.0,1019.1 408.7,1026.8 409.3,1024.7 410.1,1018.5 410.7,1026.4 411.4,1014.8 412.1,1020.6 412.7,1013.2 413.2,1019.4 413.8,1026.7 414.2,1012.4 414.9,1019.0 415.5,1010.5 416.1,1006.8 416.7,1019.8 417.5,1011.7 417.9,1015.4 418.6,1016.1 419.4,1010.3 420.2,1010.4 420.9,1015.6 421.5,1010.6 422.3,1024.3 422.8,1011.1 423.6,1016.0 424.1,1018.3 424.6,1017.7 425.2,1011.6 426.0,1010.8 426.8,1034.6 427.4,1013.6 427.9,1022.2 428.7,1017.8 429.5,1033.3 430.2,1025.7 430.9,1039.8 431.5,1029.8 432.0,1033.7 432.6,1029.7 433.4,1038.8 434.1,1028.2 434.6,1031.5 435.1,1027.2 435.9,1034.4 436.6,1036.9 437.3,1018.7 437.9,1027.6 438.5,1012.8 439.3,1020.4 439.8,1008.4 440.4,1018.4 441.0,1022.7 441.8,1026.4 442.3,1012.6 443.1,1020.6 443.7,1014.7 444.4,1023.2 444.9,1015.7 445.6,1019.0 446.3,1014.0 446.8,1019.2 447.6,1023.0 448.3,1014.8 448.9,1022.0 449.7,1015.7 450.2,1031.6 450.7,1014.4 451.5,1018.5 452.2,1011.0 452.9,1018.2 453.5,1014.8 454.3,1015.9 455.0,1015.6 455.8,1030.8 456.4,1011.2 457.1,1021.8 457.7,1012.9 458.4,1013.8 459.1,1019.4 459.7,1010.7 460.3,1019.1 461.0,1011.2 461.5,1023.2 462.1,1021.4 462.8,1010.6 463.4,1022.4 463.9,1023.9 464.7,1014.5 465.3,1024.4 465.8,1015.8 466.3,1024.8 466.8,1010.7 467.4,1022.2 468.0,1014.1 468.5,1023.9 469.0,1022.2 469.7,1018.6 470.3,1019.6 471.0,1016.9 471.6,1020.0 472.3,1014.5 472.7,1034.6 473.4,1016.1 473.8,1015.6 474.3,1022.5 475.1,1016.5 475.9,1022.7 476.4,1016.6 477.1,1013.4 477.8,1010.4 478.5,1026.1 479.1,1022.0 479.6,1019.5 480.1,1025.2 480.5,1011.3 481.3,1008.2 481.8,1020.1 482.5,1008.7 483.1,1009.7 483.6,1009.3 484.1,1016.6 484.7,1013.2 485.2,1007.5 486.0,1020.4 486.6,1008.7 487.1,1021.4 487.6,1005.1 488.1,1007.6 488.5,1010.0 489.2,1016.5 489.8,1019.3 490.5,1016.6 491.2,1012.6 491.7,1021.7 492.2,1021.4 492.8,1015.1 493.6,1018.7 494.0,1012.6 494.5,1019.8 495.0,1021.1 495.6,1012.6 496.3,1020.6 496.9,1010.2 497.6,1021.9 498.3,1018.7 498.8,1014.8 499.2,1014.1 499.7,1022.8 500.4,1018.1 501.1,1014.3 501.7,1015.5 502.1,1011.4 502.9,1013.3 503.6,1021.9 504.2,1015.0 504.8,1019.3 505.5,1014.8 506.3,1024.3 506.8,1016.7 507.4,1021.5 507.8,1020.5 508.5,1014.7 509.3,1017.1 509.8,1022.2 510.5,1017.0 511.1,1024.4 511.6,1018.7 512.2,1022.1 512.7,1026.3 513.3,1022.6 514.0,1018.1 514.7,1023.9 515.3,1015.3 515.9,1022.1 516.3,1015.6 516.8,1025.0 517.4,1017.0 517.8,1015.8 518.4,1022.6 518.9,1025.5 519.5,1015.5 520.3,1020.3 521.0,1012.7 521.7,1011.0 522.3,1018.9 522.9,1014.6 523.5,1025.8 524.0,1013.0 524.7,1021.1 525.3,1019.2 526.0,1020.9 526.6,1012.8 527.1,1030.5 527.8,1011.5 528.4,1021.1 529.0,1013.4 529.7,1022.0 530.2,1012.8 531.0,1020.8 531.7,1013.2 532.2,1017.9 532.9,1014.4 533.7,1017.9 534.3,1014.5 534.8,1013.8 535.4,1032.2 536.0,1032.6 536.6,1014.8 537.2,1020.1 538.0,1021.5 538.7,1019.7 539.2,1010.6 539.6,1015.0 540.2,1015.8 540.7,1022.6 541.2,1023.3 541.9,1017.3 542.5,1020.9 543.1,1018.6 543.6,1030.3 544.2,1016.3 544.7,1026.1 545.2,1031.4 545.7,1019.9 546.3,1025.2 546.8,1018.4 547.3,1029.0 547.7,1025.2 548.2,1018.6 548.7,1029.6 549.3,1017.9 550.0,1023.7 550.7,1030.1 551.2,1015.0 551.8,1015.1 552.3,1024.0 552.9,1016.1 553.4,1015.1 554.0,1018.8 554.6,1013.2 555.2,1012.4 555.9,1017.3 556.7,1011.2 557.2,1021.7 557.8,1012.5 558.3,1017.1 558.8,1010.5 559.5,1011.4 560.0,1027.1 560.5,1009.7 561.1,1018.1 561.6,1006.8 562.0,1007.4 562.7,1015.9 563.4,1005.6 564.2,1014.0 565.0,1010.4 565.7,1009.5 566.3,1016.8 566.8,1011.5 567.3,1014.8 568.0,1016.6 568.6,1014.5 569.0,1015.2 569.7,1007.6 570.2,1009.8 570.8,1021.7 571.5,1009.6 572.2,1018.9 572.8,1015.4 573.3,1010.1 573.8,1015.7 574.2,1017.7 574.9,1007.8 575.4,1016.9 575.9,1011.3 576.6,1013.8 577.1,1013.7 577.9,1010.0 578.5,1007.8 579.3,1021.0 579.8,1010.2 580.3,1016.4 580.8,1007.6 581.6,1015.4 582.2,1009.7 582.9,1009.0 583.7,1013.9 584.4,1013.4 585.1,1010.0 585.7,1016.8 586.3,1007.9 586.9,1019.1 587.5,1010.0 588.2,1014.0 589.0,1006.6 589.7,1013.8 590.4,1007.4 590.9,1026.1 591.5,1006.9 592.1,1015.6 592.7,1009.2 593.2,1014.2 593.7,1008.5 594.2,1013.2 594.8,1009.6 595.4,1013.5 596.1,1010.6 596.6,1014.7 597.1,1007.2 597.8,1009.8 598.4,1006.9 599.1,1013.3 599.7,1008.2 600.2,1016.5 600.9,1016.0 601.6,1006.0 602.1,1014.3 602.6,1010.0 603.1,1014.4 603.6,1017.0 604.3,1009.5 604.9,1007.6 605.5,1023.3 606.1,1005.7 606.6,1016.5 607.2,1020.8 607.8,1017.6 608.3,1007.7 608.7,1015.4 609.3,1026.1 609.8,1026.9 610.4,1008.6 611.1,1014.2 611.9,1020.5 612.6,1007.5 613.2,1020.9 613.9,1007.0 614.6,1018.0 615.2,1020.4 615.7,1011.5 616.3,1015.9 616.7,1010.4 617.3,1010.5 617.9,1018.5 618.5,1010.6 619.0,1012.8 619.8,1023.8 620.3,1009.2 620.8,1014.9 621.5,1014.4 622.0,1028.3 622.7,1010.7 623.2,1023.8 623.7,1008.0 624.3,1023.7 625.0,1015.9 625.6,1013.6 626.1,1024.2 626.7,1018.4 627.5,1019.8 628.2,1019.7 628.9,1019.6 629.5,1034.4 630.1,1021.2 630.7,1029.6 631.4,1015.9 631.9,1051.7 632.7,1022.6 633.2,1024.1 633.6,1030.8 634.1,1034.1 634.8,1021.8 635.3,1028.2 636.0,1019.5 636.6,1018.5 637.0,1043.0 637.8,1019.1 638.6,1034.3 639.1,1032.1 639.8,1022.8 640.6,1028.4 641.4,1045.4 642.1,1030.4 642.6,1042.4 643.2,1049.8 643.8,1024.3 644.3,1066.7 644.7,1014.8 645.4,1037.1 646.0,1026.0 646.7,1025.9 647.4,1026.6 647.9,1023.8 648.5,1032.1 649.1,1036.0 649.6,1020.0 650.1,1035.4 650.6,1018.4 651.3,1030.9 651.8,1022.2 652.4,1032.8 653.0,1027.6 653.8,1044.9 654.4,1023.1 655.0,1072.8 655.5,1030.4 656.0,1039.6 656.8,1044.0 657.4,1029.5 657.8,1049.0 658.4,1065.4 659.1,1020.4 659.7,1050.7 660.4,1029.7 661.1,1037.7 661.7,1014.3 662.2,1045.8 662.9,1039.3 663.6,1017.5 664.4,1024.2 665.1,1025.6 665.6,1038.6 666.2,1026.7 666.9,1038.2 667.7,1032.9 668.3,1030.3 668.9,1034.9 669.3,1036.1 669.8,1047.6 670.5,1034.8 671.1,1078.0 671.8,1031.3 672.5,1051.0 673.3,1056.5 674.0,1032.0 674.7,1058.0 675.3,1070.4 675.9,1026.2 676.5,1081.8 677.1,1033.6 677.8,1052.3 678.5,1039.6 679.1,1023.5 679.8,1112.1 680.4,1029.0 681.2,1065.1 681.7,1067.5 682.2,1036.9 682.7,1072.7 683.2,1039.3 683.9,1108.5 684.5,1046.1 685.1,1066.6 685.6,1050.8 686.1,1086.0 686.7,1063.9 687.3,1120.7 687.8,1065.9 688.3,1087.0 689.0,1071.1 689.6,1096.6 690.4,1113.9 690.9,1082.3 691.5,1104.6 692.3,1110.3 692.7,1097.5 693.2,1135.4 694.0,1123.2 694.5,1202.5 695.0,1115.6 695.6,1171.0 696.4,1207.2 697.2,1189.3 697.9,1220.8 698.4,1163.5 698.8,1167.7 699.6,1217.3 700.1,1114.0 700.6,1097.9 701.1,1110.8 701.6,1076.9 702.2,1128.4 702.9,1070.0 703.6,1068.3 704.4,1103.5 704.8,1114.3 705.3,1104.9 705.8,1072.8 706.4,1067.1 706.9,1094.2 707.7,1040.5 708.3,1082.0 709.0,1086.5 709.7,1061.3 710.1,1086.7 710.8,1078.7 711.5,1057.8 712.2,1067.9 712.8,1053.7 713.4,1055.4 714.1,1074.9 714.6,1083.2 715.4,1037.8 716.1,1080.2 716.8,1063.7 717.3,1117.4 717.8,1046.4 718.5,1088.7 719.2,1047.7 720.0,1116.7 720.5,1034.4 721.3,1076.4 722.1,1048.0 722.7,1081.6 723.4,1013.5 724.2,1091.9 724.6,1019.0 725.4,1135.0 725.8,1042.0 726.4,1031.9 727.2,1043.1 727.8,1096.6 728.6,1117.2 729.1,1030.8 729.7,1089.8 730.2,1002.0 730.9,1103.1 731.5,1079.6 732.3,1009.3 732.7,1103.8 733.4,1016.9 733.8,1158.1 734.6,1043.0 735.2,1147.2 735.9,1180.4 736.6,1019.5 737.3,1211.6 738.1,1060.0 738.7,1129.3 739.4,1095.3 739.9,1170.0 740.7,1099.6 741.5,1152.8 742.1,1072.8 742.7,1178.2 743.4,1184.9 743.8,1109.6 744.3,1178.7 744.8,1154.0 745.4,1077.6 745.9,1153.3 746.6,1034.6 747.1,1119.6 747.8,1055.9 748.6,1144.3 749.3,1112.1 750.0,1036.6 750.4,1184.5 751.1,1166.7 751.8,1044.1 752.5,1099.1 753.0,1043.8 753.6,1135.7 754.3,1026.4 754.8,1151.6 755.5,1080.0 756.2,1132.3 756.7,1042.8 757.3,1204.1 758.0,1071.6 758.7,1155.0 759.3,1079.5 759.8,1148.7 760.6,1115.0 761.0,1117.2 761.5,1294.6 762.2,1239.4 762.9,1118.7 763.6,1118.0 764.3,1082.7 764.9,1157.1 765.6,1111.9 766.2,1148.4 767.0,1047.5 767.5,1151.3 768.2,1098.8 768.7,1076.7 769.3,1135.0 770.0,1078.9 770.8,1135.6 771.6,1108.8 772.0,1023.2 772.7,1063.6 773.5,1208.6 774.2,1107.4 774.7,1039.3 775.5,1163.7 776.0,1140.3 776.6,1110.0 777.3,1064.3 777.9,1120.5 778.4,1164.5 779.1,1103.4 779.7,1110.4 780.3,1177.9 780.9,1115.7 781.5,1108.4 781.9,1122.0 782.6,1213.7 783.3,1213.2 783.9,1186.8 784.6,1081.4 785.3,1106.6 785.9,1141.1 786.6,1172.1 787.4,1225.9 788.2,1075.0 788.9,1170.5 789.4,1084.7 789.9,1130.3 790.5,1047.9 791.0,1162.3 791.7,1052.8 792.2,1096.6 792.7,1043.6 793.3,1094.4 793.8,1134.5 794.4,1120.5 795.1,1075.8 795.8,1067.5 796.6,1074.6 797.3,1104.7 797.9,1044.5 798.6,1137.7 799.4,1083.2 800.0,1119.8 800.8,1045.0 801.3,1138.7 801.9,1049.6 802.7,1126.4 803.2,1120.6 804.0,1069.7 804.7,1138.5 805.2,1035.4 805.8,1153.6 806.5,1062.4 807.2,1189.8 807.7,1158.6 808.5,1058.3 809.0,1111.0 809.7,1115.5 810.1,1044.0 810.7,1183.6 811.3,1095.0 811.8,1137.4 812.2,1110.1 812.9,1110.2 813.5,1219.5 814.1,1125.3 814.8,1119.6 815.3,1208.4 815.8,1226.1 816.3,1122.9 816.8,1114.5 817.3,1123.5 817.8,1209.8 818.6,1199.1 819.1,1086.6 819.6,1140.4 820.3,1221.5 820.8,1107.8 821.6,1123.8 822.3,1172.4 822.9,1131.4 823.4,1111.8 823.9,1119.8 824.5,1075.9 825.2,1143.4 826.0,1076.4 826.5,1065.2 827.0,1135.5 827.7,1131.6 828.3,1086.7 829.1,1194.3 829.5,1167.3 830.2,1079.0 830.8,1069.3 831.6,1159.8 832.2,1138.9 833.0,1126.1 833.4,1129.1 834.1,1073.1 834.8,1002.8 835.4,1115.2 836.2,1078.9 837.0,1147.6 837.8,1100.1 838.2,1181.9 839.0,1086.2 839.6,1158.0 840.1,1246.1 840.8,1087.2 841.2,1159.0 841.8,1107.7 842.6,1171.6 843.0,1103.0 843.4,1134.4 844.0,1070.7 844.8,1077.6 845.4,1168.6 846.2,1158.0 846.9,1140.6 847.4,1112.7 847.9,1181.7 848.5,1173.3 849.1,1061.5 849.7,1055.1 850.4,1088.6 851.2,1148.4 851.9,1086.3 852.4,1093.5 853.0,1154.2 853.7,1059.7 854.3,1082.3 854.7,1129.8 855.4,1078.9 856.1,1072.0 856.6,1226.6 857.3,1056.2 857.7,1192.5 858.3,1128.5 858.7,1130.8 859.4,1144.6 860.2,1144.6 860.8,1114.5 861.3,1103.9 861.8,1207.2 862.5,1097.4 863.0,1091.1 863.7,1167.4 864.2,1161.8 864.7,1059.7 865.4,1130.7 865.9,1143.9 866.4,1083.3 867.0,1225.1 867.5,1059.1 868.0,1163.1 868.6,1076.2 869.3,1136.3 869.8,1137.7 870.3,1172.9 870.8,1026.7 871.3,1141.5 871.8,1071.2 872.3,1152.4 872.8,1064.2 873.5,1121.1 874.1,1005.0 874.7,1133.9 875.2,1183.1 875.8,1063.8 876.6,1075.7 877.0,1262.9 877.5,1126.4 878.2,1132.2 879.0,1166.0 879.8,1157.4 880.5,1072.5 881.1,1201.4 881.8,1137.8 882.3,1093.7 882.8,1129.3 883.6,1065.3 884.3,1138.0 885.0,1058.2 885.8,1180.5 886.3,1119.8 886.9,1124.7 887.5,1172.8 888.2,1125.6 888.9,1242.0 889.4,1097.9 890.1,1165.7 890.6,1068.4 891.4,1186.5 892.1,1026.4 892.7,1128.0 893.4,1107.0 894.0,1136.4 894.5,1063.7 895.1,1102.1 895.9,1055.7 896.7,1151.7 897.4,1061.9 898.0,1109.3 898.8,1071.0 899.6,1133.5 900.4,1047.1 901.0,1074.2 901.7,1071.3 902.4,1045.6 903.2,1129.9 903.8,1052.7 904.5,1105.1 904.9,1027.0 905.6,1093.7 906.3,1046.5 907.1,1091.3 907.9,1061.8 908.6,1114.8 909.2,1067.1 909.8,1149.1 910.2,1068.4 910.9,1120.1 911.6,1080.4 912.2,1147.9 912.8,1066.5 913.2,1083.3 913.9,1149.5 914.5,1039.6 915.1,1024.1 915.7,1083.5 916.1,1082.9 916.7,1140.1 917.4,1062.6 917.9,1077.8 918.6,1124.4 919.1,1065.8 919.6,1140.6 920.1,1078.6 920.8,1201.3 921.4,1088.2 921.9,1183.2 922.6,1113.3 923.2,1221.2 923.7,1257.5 924.3,1143.1 925.1,1220.9 925.7,1128.8 926.4,1181.1 926.9,1121.2 927.5,1109.8 927.9,1091.2 928.4,1190.3 929.2,1128.1 930.0,1244.9 930.7,1101.0 931.2,1212.5 931.6,1214.4 932.0,1177.9 932.5,1098.4 933.3,1242.0 933.9,1258.3 934.7,1172.0 935.2,1313.2 935.7,1093.1 936.4,1195.4 937.0,1074.5 937.5,1095.4 938.2,1201.1 938.6,1100.1 939.3,1192.5 940.1,1089.2 940.7,1160.5 941.4,1100.5 942.1,1174.6 942.6,1077.4 943.1,1165.8 943.6,1124.3 944.4,1194.2 945.1,1178.5 945.6,1109.6 946.3,1189.3 946.9,1129.0 947.5,1185.3 948.3,1093.2 948.9,1173.5 949.7,1106.5 950.4,1115.5 951.0,1138.3 951.5,1232.7 952.3,1105.1 953.0,1141.3 953.7,1105.9 954.2,1157.0 954.7,1081.8 955.5,1105.4 956.2,1238.6 956.9,1130.4 957.7,1201.4 958.3,1111.2 959.1,1234.4 959.6,1262.0 960.2,1160.2 960.9,1120.6 961.4,1050.3 962.2,1189.4 962.8,1178.2 963.4,1105.6 964.1,1219.5 964.9,1067.9 965.5,1115.6 966.0,1066.9 966.5,1210.9 967.2,1173.9 967.9,1187.1 968.7,1229.9 969.1,1147.4 969.6,1182.0 970.3,1349.3 970.9,1196.7 971.5,1260.5 972.0,1206.9 972.5,1279.7 973.3,1150.9 973.8,1210.9 974.3,1250.9 974.8,1265.6 975.4,1146.8 976.1,1233.4 976.8,1232.5 977.3,1184.7 978.0,1210.3 978.8,1326.9 979.3,1298.5 979.8,1226.5 980.5,1337.8 981.0,1258.7 981.5,1465.7 982.2,1314.8 982.8,1326.6 983.5,1214.7 984.2,1222.6 984.6,1208.4 985.3,1272.5 985.8,1175.6 986.4,1152.8 987.0,1083.6 987.7,1141.7 988.3,1171.8 988.9,1181.6 989.4,1095.9 989.8,1214.9 990.3,1119.4 990.9,1168.3 991.6,1328.3 992.3,1048.5 993.1,1170.9 993.5,1186.2 994.3,1102.0 995.0,1149.6 995.7,1197.5 996.3,1103.5 996.9,1160.0 997.6,1094.8 998.1,1159.1 998.8,1098.0 999.6,1179.7 1000.3,1123.2 1001.0,1169.2 1001.5,1111.8 1002.0,1174.0 1002.7,1088.8 1003.2,1170.2 1003.9,1132.4 1004.4,1168.6 1005.0,1119.4 1005.6,1172.8 1006.2,1061.9 1007.0,1153.2 1007.8,1100.0 1008.5,1168.2 1009.0,1117.9 1009.6,1115.4 1010.2,1129.5 1010.9,1208.0 1011.3,1118.6 1011.9,1215.1 1012.5,1117.9 1013.0,1232.5 1013.4,1266.8 1014.0,1271.3 1014.5,1129.0 1015.2,1200.2 1015.7,1155.5 1016.5,1121.3 1017.3,1175.3 1017.8,1125.7 1018.4,1163.2 1019.0,1135.0 1019.6,1101.8 1020.2,1139.1 1020.8,1070.2 1021.5,1155.4 1022.2,1054.2 1022.7,1089.8 1023.3,1156.2 1024.0,1110.5 1024.6,1104.2 1025.3,1104.4 1025.9,1172.1 1026.6,1115.2 1027.3,1163.8 1027.8,1114.9 1028.5,1095.5 1029.0,1194.4 1029.6,1131.4 1030.1,1178.5 1030.8,1205.0 1031.5,1088.3 1032.3,1189.7 1032.8,1132.9 1033.5,1170.7 1034.0,1190.1 1034.6,1111.8 1035.2,1185.4 1035.7,1126.2 1036.1,1128.6 1036.7,1175.0 1037.4,1100.7 1038.2,1155.0 1038.7,1070.0 1039.5,1092.7 1040.1,1124.6 1040.6,1203.4 1041.2,1172.2 1041.9,1108.4 1042.6,1234.2 1043.1,1174.9 1043.8,1123.1 1044.6,1195.1 1045.3,1114.6 1045.8,1216.5 1046.4,1187.0 1046.9,1092.2 1047.6,1194.5 1048.3,1097.3 1049.1,1163.5 1049.8,1196.1 1050.4,1144.4 1051.0,1124.9 1051.7,1093.3 1052.3,1065.6 1052.7,1142.2 1053.4,1079.5 1054.0,1199.7 1054.4,1101.3 1054.9,1074.4 1055.7,1107.2 1056.1,1145.9 1056.7,1111.4 1057.4,1240.2 1058.1,1096.5 1058.6,1201.3 1059.2,1089.5 1060.0,1163.7 1060.7,1084.6 1061.3,1139.0 1061.9,1056.3 1062.6,1104.1 1063.4,1098.4 1064.0,1106.2 1064.7,1031.7 1065.4,1040.5 1066.0,1145.5 1066.4,1060.7 1067.1,1131.4 1067.8,1199.2 1068.4,1150.7 1069.0,1074.8 1069.8,1125.5 1070.3,1067.9 1070.9,1126.7 1071.3,1067.0 1071.9,1136.7 1072.4,1072.8 1073.0,1136.0 1073.4,1047.5 1074.1,1092.9 1074.6,1104.0 1075.1,1254.7 1075.5,1108.9 1076.3,1168.7 1076.8,1129.5 1077.6,1168.8 1078.3,1121.5 1079.0,1157.6 1079.5,1100.0 1080.1,1155.5 1080.8,1169.1 1081.4,1110.6 1082.0,1157.3 1082.8,1087.2 1083.5,1142.9 1084.3,1080.0 1085.0,1126.2 1085.6,1066.8 1086.3,1151.9 1086.8,1144.1 1087.3,1066.5 1088.0,1136.5 1088.6,1068.2 1089.5,1221.3 1090.0,1098.3 1090.7,1195.0 1091.3,1093.2 1092.1,1167.9 1092.6,1088.8 1093.1,1144.2 1093.8,1083.3 1094.4,1061.0 1095.0,1069.5 1095.5,1111.7 1096.2,1087.0 1097.0,1166.8 1097.8,1201.1 1098.5,1075.2 1099.2,1169.6 1099.7,1084.3 1100.5,1178.5 1101.1,1083.9 1101.7,1166.0 1102.4,1093.3 1103.1,1176.0 1103.6,1094.5 1104.1,1078.1 1104.7,1210.0 1105.5,1048.8 1106.3,1079.8 1106.9,1169.1 1107.5,1091.3 1108.1,1118.6 1108.8,1066.0 1109.5,1208.4 1110.1,1090.4 1110.9,1227.3 1111.5,1165.4 1112.1,1161.0 1112.8,1093.4 1113.5,1044.6 1114.0,1220.7 1114.8,1112.5 1115.5,1201.7 1116.1,1093.2 1117.0,1121.4 1117.6,1185.6 1118.3,1075.3 1119.0,1122.8 1119.7,1198.6 1120.3,1173.3 1120.9,1277.3 1121.6,1165.4 1122.1,1220.0 1122.8,1226.3 1123.4,1118.8 1124.1,1260.1 1124.7,1252.0 1125.2,1238.9 1125.9,1280.0 1126.6,1191.0 1127.0,1333.2 1127.5,1205.3 1128.3,1312.9 1129.1,1198.4 1129.7,1295.8 1130.4,1167.1 1131.1,1290.2 1131.8,1222.8 1132.5,1158.9 1133.0,1229.3 1133.5,1148.1 1134.1,1202.9 1134.7,1273.7 1135.5,1113.5 1135.9,1217.6 1136.5,1116.4 1137.2,1168.0 1137.8,1049.4 1138.6,1183.1 1139.0,1208.5 1139.8,1108.7 1140.6,1085.1 1141.3,1156.2 1141.8,1081.2 1160.0,1158.0" fill="none" stroke="#6EE8F8" stroke-width="1.3" stroke-linejoin="round" stroke-linecap="round" />
<line x1="289" y1="1016" x2="289" y2="1031.8" stroke="#72E6F7" stroke-width="1.4"/>
<line x1="315.4" y1="1014" x2="315.4" y2="1027.4" stroke="#72E6F7" stroke-width="1.4"/>
<line x1="336.3" y1="1020" x2="336.3" y2="1042.7" stroke="#72E6F7" stroke-width="1.4"/>
<line x1="353.2" y1="1018" x2="353.2" y2="1029.6" stroke="#72E6F7" stroke-width="1.4"/>
<line x1="408.8" y1="1025" x2="408.8" y2="1047.1" stroke="#72E6F7" stroke-width="1.4"/>
<line x1="433" y1="1030" x2="433" y2="1070.2" stroke="#72E6F7" stroke-width="1.4"/>
<line x1="475.8" y1="1018" x2="475.8" y2="1031.8" stroke="#72E6F7" stroke-width="1.4"/>
<line x1="547" y1="1022" x2="547" y2="1036" stroke="#72E6F7" stroke-width="1.4"/>
<line x1="695.5" y1="1020" x2="695.5" y2="1330" stroke="#72E6F7" stroke-width="1.4"/>
<line x1="697.5" y1="1020" x2="697.5" y2="1300" stroke="#72E6F7" stroke-width="1.4"/>
<line x1="927" y1="1140" x2="927" y2="1420" stroke="#72E6F7" stroke-width="1.4"/>
<line x1="960" y1="1150" x2="960" y2="1660" stroke="#72E6F7" stroke-width="1.4"/>
<line x1="978" y1="1150" x2="978" y2="1585" stroke="#72E6F7" stroke-width="1.4"/>
<line x1="982" y1="1150" x2="982" y2="1595" stroke="#72E6F7" stroke-width="1.4"/>
<line x1="876" y1="1100" x2="876" y2="1300" stroke="#72E6F7" stroke-width="1.4"/>
<line x1="903" y1="1100" x2="903" y2="1250" stroke="#72E6F7" stroke-width="1.4"/>
<line x1="843" y1="1100" x2="843" y2="1240" stroke="#72E6F7" stroke-width="1.4"/>
<line x1="1133" y1="1150" x2="1133" y2="1450" stroke="#72E6F7" stroke-width="1.4"/>
<line x1="1130" y1="1150" x2="1130" y2="1400" stroke="#72E6F7" stroke-width="1.4"/>
<line x1="745" y1="1150" x2="745" y2="1270" stroke="#72E6F7" stroke-width="1.4"/>
<line x1="772" y1="1150" x2="772" y2="1250" stroke="#72E6F7" stroke-width="1.4"/>
<line x1="797" y1="1150" x2="797" y2="1260" stroke="#72E6F7" stroke-width="1.4"/>
<line x1="730" y1="1120" x2="730" y2="1250" stroke="#72E6F7" stroke-width="1.4"/>
<line x1="953" y1="1120" x2="953" y2="1380" stroke="#72E6F7" stroke-width="1.4"/>
<line x1="970" y1="1150" x2="970" y2="1540" stroke="#72E6F7" stroke-width="1.4"/>
<polyline points="213.0,828.0 213.5,824.4 214.0,833.4 214.5,830.2 215.1,824.4 215.7,831.1 216.0,826.9 216.6,833.1 217.2,823.4 217.6,827.1 218.1,832.7 218.5,827.8 219.1,833.8 219.7,837.2 220.3,826.3 220.9,832.7 221.3,836.1 221.8,837.7 222.4,838.4 223.0,827.8 223.6,838.6 224.2,824.2 224.8,832.0 225.3,826.4 225.9,832.8 226.3,826.6 226.8,829.6 227.2,827.4 227.5,831.4 228.1,839.1 228.7,827.1 229.2,832.1 229.7,839.2 230.2,831.4 230.6,825.8 231.0,831.5 231.5,825.8 232.1,829.8 232.5,825.0 232.9,828.6 233.5,829.1 234.0,824.2 234.5,830.7 234.9,825.0 235.5,834.7 236.1,823.6 236.6,825.5 237.1,830.3 237.5,822.7 238.1,834.8 238.5,824.2 239.1,830.6 239.7,821.3 240.2,828.2 240.8,838.8 241.2,823.8 241.7,834.7 242.0,829.4 242.7,823.7 243.1,829.9 243.6,829.1 244.1,824.4 244.5,831.2 245.1,824.3 245.6,833.3 246.1,828.7 246.6,824.7 247.3,830.2 247.9,829.2 248.4,824.6 249.0,827.2 249.3,824.3 249.7,830.5 250.0,827.1 250.6,832.2 251.2,834.6 251.7,827.5 252.1,830.8 252.7,829.4 253.3,826.0 253.7,826.1 254.4,831.8 254.8,826.0 255.3,833.9 255.7,824.0 256.1,832.0 256.6,826.4 257.1,832.9 257.7,823.1 258.1,824.7 258.6,830.3 259.0,825.1 259.5,834.5 260.0,826.2 260.5,829.6 260.9,820.7 261.5,825.9 261.9,830.5 262.5,826.8 263.1,821.8 263.7,829.3 264.1,824.6 264.6,829.5 265.1,832.4 265.6,822.7 266.3,832.5 266.8,825.6 267.3,832.7 267.8,825.4 268.4,828.6 268.8,830.8 269.3,831.6 269.7,824.5 270.3,832.4 270.7,822.8 271.2,830.1 271.7,825.9 272.3,828.6 272.8,822.1 273.1,829.3 273.5,828.8 274.0,822.2 274.6,829.3 275.1,825.4 275.5,827.9 276.1,825.5 276.7,833.3 277.3,821.1 277.8,833.6 278.4,827.0 278.9,832.5 279.4,827.0 279.8,827.0 280.2,824.8 280.8,833.1 281.4,824.5 282.0,831.3 282.6,827.5 283.1,829.6 283.5,832.7 284.0,827.1 284.6,833.9 285.2,829.5 285.7,842.3 286.1,833.3 286.6,838.5 287.1,829.0 287.7,829.1 288.1,822.7 288.6,828.0 289.1,831.2 289.7,827.7 290.1,829.6 290.6,831.5 291.2,828.7 291.6,839.6 292.0,823.2 292.6,825.0 293.2,827.9 293.6,824.3 294.1,827.5 294.7,822.9 295.2,826.7 295.6,825.5 296.1,821.6 296.7,819.2 297.3,821.1 297.8,824.4 298.3,818.1 298.7,826.0 299.1,824.3 299.5,823.5 300.0,823.3 300.4,820.9 301.0,827.0 301.4,825.9 301.8,830.5 302.2,819.9 302.8,825.8 303.2,818.3 303.6,824.7 304.1,818.2 304.5,819.7 305.1,826.2 305.6,821.4 306.1,819.8 306.5,828.4 307.0,820.8 307.5,830.7 308.1,821.3 308.7,821.8 309.3,832.4 309.8,820.2 310.3,827.5 310.7,823.3 311.1,828.5 311.7,820.6 312.2,828.6 312.7,823.4 313.3,833.3 313.7,829.2 314.2,840.2 314.7,835.9 315.2,836.3 315.7,827.8 316.0,835.0 316.6,834.2 317.1,825.4 317.7,841.0 318.4,827.2 319.0,831.1 319.4,833.3 320.0,825.4 320.6,830.4 321.0,826.6 321.6,832.9 322.0,825.0 322.6,831.2 323.1,825.7 323.6,825.8 324.1,834.0 324.7,825.0 325.2,830.3 325.5,831.7 325.9,824.4 326.5,828.0 327.1,832.7 327.7,831.8 328.3,835.4 328.8,825.8 329.2,830.3 329.8,829.4 330.3,834.1 330.8,834.4 331.2,837.9 331.8,828.2 332.2,839.3 332.7,841.0 333.2,833.0 333.7,839.1 334.1,828.5 334.8,838.9 335.2,832.9 335.8,828.3 336.4,835.9 337.0,829.8 337.5,835.8 337.9,829.7 338.6,837.6 339.0,837.8 339.6,829.2 340.1,836.0 340.7,827.0 341.0,831.7 341.6,824.5 342.1,826.8 342.7,835.3 343.1,825.5 343.6,832.4 344.0,822.5 344.4,840.2 344.9,826.0 345.5,831.8 346.1,826.2 346.8,830.0 347.1,831.6 347.5,827.3 348.0,831.7 348.5,827.5 348.9,830.9 349.6,828.7 350.2,831.1 350.7,836.6 351.0,825.4 351.6,833.4 352.1,829.1 352.6,834.0 353.0,830.2 353.5,833.1 353.9,839.2 354.3,834.8 354.9,838.8 355.4,833.6 355.9,830.1 356.2,829.5 356.7,834.6 357.1,830.4 357.6,827.7 358.2,834.0 358.7,825.8 359.0,832.3 359.5,824.0 359.9,834.0 360.4,838.0 360.8,830.0 361.4,824.0 362.1,832.0 362.5,829.5 363.0,824.5 363.6,833.6 364.1,821.7 364.6,827.1 365.1,829.2 365.6,823.5 366.0,826.8 366.4,821.4 366.9,825.9 367.5,822.4 367.9,825.5 368.5,821.3 368.9,827.0 369.4,825.6 369.9,825.8 370.5,831.7 371.2,827.5 371.6,819.6 372.2,825.2 372.8,820.4 373.3,822.8 373.7,825.7 374.4,835.7 375.0,829.1 375.6,823.3 376.2,828.7 376.6,821.3 376.9,821.0 377.4,834.8 377.9,828.2 378.5,823.7 379.1,823.5 379.6,827.0 380.0,821.7 380.5,824.0 381.0,829.3 381.4,824.0 381.9,826.4 382.5,822.6 382.9,821.3 383.4,832.2 383.9,830.8 384.3,834.6 384.8,835.6 385.3,830.5 385.9,835.2 386.4,828.2 386.8,822.1 387.1,827.7 387.7,831.5 388.2,828.2 388.8,826.4 389.3,838.8 389.7,824.9 390.2,831.5 390.6,838.3 391.1,828.9 391.6,825.7 392.2,826.0 392.7,832.0 393.2,829.8 393.7,826.1 394.3,832.6 394.7,827.7 395.3,831.5 395.8,827.4 396.4,831.3 396.9,827.7 397.3,831.5 397.8,827.2 398.2,837.7 398.8,828.0 399.5,830.6 400.1,827.2 400.5,835.0 400.9,829.2 401.5,832.8 401.9,830.2 402.5,828.0 403.0,834.5 403.6,836.4 404.1,830.1 404.6,830.2 405.0,837.9 405.4,832.7 405.9,838.2 406.5,839.6 407.0,836.8 407.6,848.4 408.1,835.5 408.7,833.6 409.1,845.5 409.5,830.7 410.1,833.3 410.5,835.8 411.1,830.4 411.6,827.8 412.2,836.5 412.6,834.0 413.2,836.7 413.8,840.6 414.4,834.2 414.8,827.3 415.2,833.2 415.8,830.8 416.3,826.8 416.9,831.4 417.3,832.7 417.9,826.3 418.3,826.9 418.8,834.8 419.4,823.6 419.9,833.3 420.5,827.6 420.8,833.0 421.3,829.9 421.8,831.4 422.3,828.1 422.8,827.2 423.3,825.7 423.8,832.4 424.4,826.8 424.7,835.0 425.1,833.5 425.5,835.4 426.0,836.8 426.4,830.9 427.0,834.6 427.4,839.2 428.0,833.6 428.6,841.3 429.0,838.4 429.5,847.5 430.1,848.5 430.6,841.3 431.2,848.7 431.7,844.7 432.3,839.6 432.6,842.2 433.1,848.1 433.6,849.2 434.2,838.9 434.7,841.3 435.2,847.8 435.7,838.5 436.2,845.4 436.6,834.6 437.0,840.6 437.5,834.9 438.1,840.0 438.6,830.5 439.2,833.6 439.6,830.8 440.1,828.3 440.5,838.4 441.0,829.8 441.6,831.4 441.9,838.5 442.3,827.1 442.9,836.4 443.4,840.6 444.0,837.2 444.6,829.8 445.1,834.9 445.6,841.6 446.0,831.4 446.4,833.6 447.0,830.2 447.6,830.2 448.1,834.5 448.5,830.7 449.0,831.4 449.6,830.8 450.1,839.7 450.5,835.4 451.0,828.6 451.6,839.3 452.1,835.5 452.5,830.5 453.1,833.8 453.7,835.7 454.4,831.2 454.9,835.1 455.3,827.9 455.9,836.6 456.3,826.0 456.9,834.3 457.3,843.8 457.9,828.4 458.4,837.8 458.9,830.6 459.4,838.2 459.8,831.1 460.3,835.4 460.9,827.5 461.5,834.2 462.0,827.9 462.6,836.3 462.9,828.5 463.4,840.8 464.0,828.6 464.5,833.8 465.1,825.9 465.6,828.5 466.2,830.5 466.7,839.4 467.1,831.5 467.5,837.4 467.9,828.7 468.5,834.0 468.8,836.7 469.4,834.6 470.0,830.1 470.5,837.7 471.0,830.6 471.5,837.7 471.8,834.6 472.3,843.6 472.7,831.9 473.1,837.0 473.7,836.1 474.1,833.0 474.6,841.7 475.2,838.8 475.8,830.7 476.3,827.6 476.7,831.2 477.1,835.0 477.6,836.1 478.3,830.8 478.9,832.5 479.4,833.3 479.8,825.4 480.2,838.5 480.5,832.4 481.1,822.8 481.7,839.7 482.3,833.1 482.8,823.8 483.4,828.7 484.1,822.3 484.5,827.7 485.2,829.9 485.5,834.1 486.0,824.9 486.6,826.7 487.2,831.3 487.6,830.5 488.2,827.8 488.6,832.6 489.1,826.7 489.5,834.1 489.9,829.3 490.4,834.4 490.9,832.0 491.5,829.6 492.1,826.8 492.6,833.9 493.1,830.9 493.5,837.9 493.9,829.6 494.5,841.6 494.9,828.4 495.5,835.1 495.9,834.9 496.6,830.1 497.0,832.9 497.3,829.4 497.9,834.2 498.3,842.0 498.8,831.1 499.2,838.5 499.6,830.4 500.0,834.7 500.7,830.1 501.0,833.8 501.6,827.1 502.2,839.9 502.6,831.2 503.2,837.6 503.7,831.8 504.4,836.2 504.8,830.4 505.4,836.6 506.0,831.0 506.3,837.0 506.7,829.1 507.2,838.2 507.8,828.7 508.2,835.5 508.8,831.9 509.4,841.0 509.8,843.0 510.4,831.7 510.8,837.1 511.4,831.8 511.7,838.5 512.4,833.9 512.8,842.5 513.4,833.7 513.9,833.3 514.4,837.7 514.8,833.3 515.1,839.6 515.8,830.7 516.3,839.3 516.7,833.7 517.1,837.8 517.6,829.4 518.0,838.2 518.6,831.9 519.1,834.5 519.5,845.3 520.1,825.4 520.5,834.2 521.1,825.7 521.7,830.3 522.3,830.4 522.7,830.5 523.2,838.0 523.7,827.8 524.3,833.5 524.8,835.1 525.5,834.9 525.9,827.2 526.5,833.3 527.1,827.3 527.5,834.6 528.0,829.9 528.6,833.3 529.0,827.6 529.5,833.9 529.8,830.1 530.4,834.0 530.8,829.8 531.4,838.3 531.9,829.9 532.4,834.8 533.0,836.8 533.4,831.0 533.7,840.3 534.4,830.7 534.8,835.9 535.4,827.2 535.8,840.5 536.1,829.8 536.5,835.1 537.0,830.3 537.4,837.4 537.8,830.8 538.3,835.0 538.7,830.7 539.2,834.5 539.6,824.2 540.0,840.7 540.4,829.7 540.9,837.8 541.4,837.0 541.7,828.3 542.2,837.3 542.8,833.5 543.2,832.1 543.9,833.9 544.4,832.9 544.9,842.1 545.5,834.3 546.0,843.8 546.6,835.7 547.2,840.1 547.6,833.6 548.1,842.3 548.5,834.6 549.0,830.5 549.5,833.7 549.9,839.1 550.5,833.6 551.1,833.2 551.7,837.8 552.0,831.7 552.6,840.4 553.1,834.5 553.7,830.0 554.4,836.4 554.8,837.5 555.3,830.5 555.7,836.8 556.2,826.8 556.8,836.6 557.2,826.8 557.7,826.6 558.2,828.5 558.6,836.6 559.0,828.3 559.6,831.6 560.2,826.5 560.7,831.6 561.3,825.2 561.8,827.4 562.2,834.6 562.8,825.3 563.2,831.6 563.7,827.4 564.1,829.5 564.7,826.2 565.1,822.0 565.8,832.2 566.4,827.6 567.0,825.9 567.5,834.6 568.0,826.2 568.5,830.4 569.1,825.1 569.5,829.6 569.9,827.7 570.3,831.1 570.9,827.8 571.4,829.9 572.0,836.6 572.6,823.4 573.1,832.5 573.4,827.7 573.9,838.0 574.5,831.2 575.0,825.7 575.6,827.1 576.2,831.7 576.7,822.9 577.2,831.5 577.8,824.7 578.5,830.7 578.9,823.7 579.4,837.7 579.9,829.6 580.5,829.5 580.9,827.2 581.5,829.6 581.9,831.1 582.4,826.4 582.8,833.0 583.3,827.0 583.7,833.7 584.3,826.8 584.9,826.2 585.3,830.3 585.8,824.9 586.3,831.2 586.9,826.8 587.4,830.3 588.0,825.5 588.3,830.9 588.7,823.4 589.3,824.1 589.8,833.7 590.3,826.0 590.8,828.6 591.2,826.5 591.7,833.6 592.3,826.2 592.8,831.4 593.2,824.9 593.6,829.8 594.1,825.6 594.6,826.5 595.2,829.4 595.8,826.5 596.3,831.0 596.7,824.0 597.1,829.6 597.5,825.5 598.0,836.2 598.4,831.5 598.8,826.3 599.4,838.0 600.0,826.3 600.4,830.0 601.0,826.1 601.6,829.7 602.3,820.8 602.7,838.2 603.2,831.5 603.6,831.2 604.2,825.8 604.7,840.5 605.2,829.3 605.6,825.5 606.1,832.7 606.4,822.8 607.0,823.3 607.5,829.3 608.2,832.4 608.7,834.7 609.0,837.0 609.6,834.5 610.0,824.6 610.6,834.5 611.0,822.8 611.5,826.0 612.1,831.4 612.7,822.7 613.1,835.0 613.6,825.4 614.1,834.7 614.5,826.4 614.9,832.0 615.2,828.7 615.8,835.6 616.4,836.9 616.8,829.2 617.3,835.7 617.7,824.5 618.3,835.8 618.9,828.2 619.4,824.8 619.9,837.4 620.5,829.0 621.0,837.2 621.6,828.6 622.0,829.5 622.4,835.0 622.8,827.8 623.2,827.0 623.6,840.1 624.1,843.7 624.5,830.6 625.0,837.0 625.6,836.8 626.2,833.5 626.7,843.1 627.2,834.2 627.8,845.6 628.4,835.1 628.9,844.5 629.3,843.2 630.0,845.2 630.3,836.3 631.0,846.9 631.6,858.6 632.1,834.5 632.6,848.1 633.0,836.3 633.4,838.2 634.0,832.8 634.4,837.1 634.9,846.2 635.5,837.3 635.8,845.3 636.4,836.3 636.9,835.7 637.3,850.5 637.7,834.7 638.3,846.5 638.7,839.0 639.1,852.6 639.5,841.0 640.1,836.8 640.7,853.8 641.1,837.8 641.5,857.1 642.1,840.8 642.7,848.7 643.3,840.4 643.7,853.6 644.2,842.4 644.7,848.5 645.3,836.9 645.8,849.2 646.2,847.4 646.6,833.6 647.1,839.4 647.5,838.0 648.1,868.1 648.5,836.3 648.8,848.0 649.4,837.8 650.0,835.4 650.5,844.6 650.9,837.9 651.4,846.7 651.8,838.0 652.3,847.5 652.7,832.4 653.1,853.0 653.7,838.2 654.3,851.7 654.7,841.1 655.1,855.0 655.7,853.5 656.3,856.7 656.6,860.0 657.2,848.1 657.8,856.0 658.4,862.5 659.0,841.6 659.4,859.1 660.0,834.6 660.6,834.5 661.0,855.5 661.5,841.3 661.9,848.5 662.3,842.7 662.9,847.8 663.4,832.8 664.0,830.4 664.5,848.8 665.0,841.2 665.6,833.8 666.1,862.6 666.5,855.2 667.2,838.5 667.5,880.8 668.1,872.8 668.5,856.3 668.8,842.4 669.3,883.3 669.7,859.3 670.2,860.9 670.7,846.6 671.1,869.1 671.6,850.5 672.2,863.7 672.8,844.0 673.3,865.8 673.8,859.8 674.2,850.8 674.7,858.1 675.3,850.8 675.8,860.1 676.3,841.6 676.8,882.8 677.2,847.8 677.6,880.5 678.1,861.5 678.7,864.1 679.3,855.3 679.8,866.3 680.2,856.6 680.8,881.7 681.4,882.0 682.1,853.4 682.5,871.7 683.2,880.2 683.6,877.3 684.3,862.8 684.9,891.9 685.2,881.5 685.9,866.5 686.4,874.9 687.0,908.4 687.5,880.7 688.1,923.9 688.7,896.1 689.3,878.5 689.9,904.3 690.3,887.7 690.8,894.6 691.3,914.6 691.7,904.6 692.1,922.0 692.5,901.0 692.9,928.4 693.3,909.9 693.8,939.0 694.4,961.2 695.0,943.7 695.7,975.8 696.2,1024.2 696.8,974.6 697.3,1010.6 697.7,997.1 698.4,1020.5 698.8,969.7 699.3,951.5 699.9,955.4 700.3,901.7 700.8,911.5 701.5,891.4 701.9,926.5 702.3,894.3 703.0,905.8 703.5,893.8 703.9,937.1 704.5,888.4 704.9,899.5 705.4,888.6 705.8,905.1 706.3,879.1 706.9,869.7 707.4,894.1 707.9,857.6 708.4,888.4 708.9,876.9 709.4,892.4 710.0,884.6 710.5,869.4 710.9,873.9 711.4,888.6 712.0,852.8 712.3,851.2 712.9,878.9 713.5,850.9 714.0,898.2 714.5,860.0 714.9,894.4 715.4,888.2 716.0,871.4 716.4,897.6 716.7,902.7 717.1,861.1 717.7,900.3 718.2,880.5 718.8,917.5 719.3,861.3 719.9,870.2 720.4,858.5 720.8,880.7 721.4,857.5 722.1,877.6 722.7,873.0 723.3,853.5 723.8,900.3 724.2,867.2 724.7,854.6 725.3,895.6 725.7,852.7 726.3,844.8 726.8,897.2 727.4,927.1 727.8,869.1 728.2,927.7 728.8,862.2 729.4,922.0 729.8,852.1 730.3,897.5 730.9,869.2 731.4,900.4 732.0,905.0 732.6,892.2 733.1,909.1 733.7,862.2 734.3,882.2 734.6,908.0 735.2,945.1 735.6,886.4 736.2,939.8 736.8,889.3 737.5,934.5 737.9,890.2 738.5,934.2 739.1,939.8 739.6,824.2 740.1,888.7 740.7,946.0 741.2,966.2 741.8,1022.2 742.2,970.6 742.7,929.6 743.2,962.0 743.8,912.1 744.2,921.8 744.7,964.4 745.3,946.8 745.7,898.6 746.1,889.1 746.6,928.1 747.1,949.5 747.6,899.8 748.2,960.7 748.8,884.7 749.4,924.9 750.0,849.8 750.4,872.0 750.8,905.7 751.4,882.3 752.0,1011.7 752.3,863.8 752.9,877.3 753.6,828.2 754.0,921.5 754.5,892.0 754.9,881.6 755.3,897.2 755.7,951.3 756.4,961.3 756.9,995.5 757.3,900.6 757.8,892.4 758.4,936.6 759.0,903.5 759.6,968.1 760.0,911.1 760.4,997.0 761.0,959.5 761.6,922.8 762.2,996.8 762.8,972.6 763.1,916.8 763.6,949.8 764.2,923.0 764.6,910.9 765.0,967.4 765.5,918.1 765.9,949.7 766.4,879.1 767.0,931.8 767.6,1034.9 768.0,891.3 768.5,926.8 769.0,895.5 769.5,943.7 770.1,852.9 770.4,856.1 770.9,931.3 771.4,912.9 771.9,882.7 772.5,839.9 772.9,854.6 773.5,913.3 774.0,927.8 774.3,914.5 774.9,887.3 775.5,858.9 776.1,920.1 776.5,892.9 776.9,882.8 777.3,930.0 777.7,895.9 778.2,979.7 778.6,888.0 779.0,937.6 779.6,1034.3 780.2,909.8 780.6,1048.5 781.1,921.3 781.7,939.7 782.3,900.3 782.7,936.8 783.1,965.0 783.5,920.2 784.1,976.1 784.8,908.2 785.2,975.7 785.7,908.0 786.1,970.2 786.6,900.4 787.1,932.2 787.5,948.7 788.0,890.4 788.4,876.2 788.9,958.9 789.5,876.3 790.1,919.2 790.6,857.6 791.1,925.2 791.4,866.5 791.8,957.3 792.3,895.9 792.9,954.5 793.5,960.7 794.0,883.9 794.4,932.5 794.8,887.1 795.2,940.6 795.6,881.2 796.1,974.7 796.7,923.9 797.3,875.4 797.9,915.9 798.4,842.2 799.0,1016.0 799.5,871.1 799.9,941.5 800.4,917.4 800.8,984.4 801.2,960.8 801.7,906.3 802.2,956.3 802.7,906.7 803.1,1002.1 803.6,902.3 804.0,874.6 804.6,955.5 805.0,899.4 805.5,901.6 806.1,930.6 806.6,899.2 807.1,954.1 807.7,896.0 808.2,925.7 808.7,890.7 809.3,921.3 809.8,878.4 810.2,940.6 810.7,888.4 811.3,1024.5 811.7,909.5 812.3,966.9 812.8,896.3 813.2,910.5 813.6,948.5 814.1,915.8 814.6,1000.6 815.2,971.0 815.5,964.9 816.2,975.4 816.6,944.0 817.1,978.5 817.6,1027.2 818.1,894.6 818.6,996.0 819.0,987.5 819.7,968.1 820.2,899.2 820.7,967.2 821.1,919.7 821.5,1041.3 822.0,955.1 822.5,922.3 823.0,1012.9 823.6,911.9 824.2,889.3 824.7,943.5 825.3,840.8 825.8,938.6 826.4,814.2 826.8,850.4 827.2,934.3 827.7,844.8 828.1,930.8 828.7,895.8 829.2,897.5 829.8,934.6 830.4,899.1 830.8,888.3 831.3,951.7 831.6,960.4 832.0,910.9 832.5,878.0 832.9,825.8 833.3,959.6 833.8,918.3 834.3,892.0 834.9,931.9 835.4,888.7 835.8,971.6 836.4,938.3 836.9,906.1 837.5,951.0 838.1,952.9 838.7,926.1 839.2,931.4 839.6,878.2 840.1,988.6 840.6,968.2 841.1,994.1 841.5,907.3 842.0,978.5 842.4,880.7 842.9,955.1 843.5,942.9 843.9,1012.9 844.6,905.3 845.1,931.5 845.7,1013.9 846.1,901.1 846.5,1003.9 847.0,895.0 847.5,950.5 847.9,947.7 848.2,961.4 848.8,883.7 849.2,970.7 849.6,911.8 850.2,932.5 850.7,859.1 851.1,956.1 851.7,906.8 852.3,946.7 852.7,890.5 853.2,882.1 853.9,902.6 854.5,927.4 854.9,887.9 855.3,950.7 855.9,881.9 856.5,961.0 856.9,882.4 857.4,940.7 857.7,1002.7 858.1,889.5 858.6,867.8 859.1,934.4 859.5,899.1 860.0,900.5 860.5,1007.8 861.0,896.3 861.6,954.5 862.0,923.8 862.5,971.8 862.8,976.9 863.4,919.8 863.8,909.2 864.3,954.3 864.8,983.4 865.4,918.1 866.0,985.9 866.6,905.8 867.0,924.9 867.6,881.0 868.1,928.5 868.7,873.0 869.4,925.8 869.9,877.4 870.3,970.1 870.8,876.2 871.4,959.8 871.9,931.6 872.4,883.1 872.7,887.6 873.1,847.5 873.6,925.0 874.0,981.8 874.5,892.8 875.0,919.8 875.6,979.0 876.0,872.4 876.5,929.7 876.8,918.8 877.4,883.0 877.9,965.5 878.3,888.0 878.8,946.3 879.2,910.1 879.8,983.8 880.4,932.3 880.9,887.7 881.4,974.8 881.8,919.3 882.3,886.5 882.9,857.6 883.3,936.9 883.8,858.2 884.4,890.8 884.9,938.1 885.3,965.4 885.7,915.3 886.2,921.4 886.5,1063.6 887.0,916.3 887.5,970.7 887.8,927.2 888.3,956.3 888.7,1057.1 889.2,878.2 889.7,948.6 890.3,976.1 890.9,891.8 891.4,991.7 892.0,883.8 892.5,875.3 893.1,933.0 893.7,861.2 894.2,965.2 894.8,850.4 895.4,916.1 895.9,929.7 896.3,880.8 896.6,939.6 897.1,847.2 897.5,910.6 897.9,873.1 898.4,880.1 898.9,933.0 899.3,950.5 899.9,890.7 900.5,998.0 901.1,884.8 901.7,912.6 902.0,854.5 902.5,934.2 903.1,839.5 903.6,896.8 904.1,823.7 904.5,838.2 904.9,915.1 905.5,879.1 906.0,912.2 906.5,983.7 907.0,886.3 907.5,934.0 908.0,925.5 908.7,983.9 909.1,968.3 909.5,986.1 909.9,850.8 910.3,872.9 910.6,948.1 911.1,894.1 911.5,958.2 912.0,882.5 912.5,882.0 913.0,945.5 913.6,891.7 914.2,891.8 914.6,957.3 915.2,910.6 915.7,937.8 916.2,956.7 916.6,906.9 917.2,890.8 917.6,956.8 918.1,882.1 918.6,915.5 919.1,846.9 919.5,885.5 920.1,955.0 920.6,911.8 921.1,1021.1 921.5,934.8 922.1,1009.2 922.7,1013.7 923.2,977.0 923.8,978.8 924.4,1032.2 924.8,937.7 925.2,947.2 925.7,985.9 926.3,1000.3 926.7,950.8 927.3,980.8 927.7,931.9 928.1,999.7 928.6,936.4 929.0,972.1 929.6,1008.8 930.2,934.7 930.8,1001.2 931.2,945.0 931.9,927.9 932.3,916.9 932.9,1000.1 933.5,933.5 933.9,898.4 934.4,922.9 934.8,968.1 935.3,924.9 935.6,992.6 936.1,950.3 936.5,978.3 937.1,1015.6 937.7,994.3 938.1,855.8 938.5,978.2 939.1,916.7 939.5,951.3 940.0,912.8 940.6,971.1 941.0,908.1 941.7,948.4 942.3,906.7 942.7,976.5 943.1,891.5 943.6,1048.5 944.0,918.6 944.6,915.6 945.3,966.1 945.9,937.4 946.4,968.5 946.9,938.3 947.2,992.2 947.7,899.5 948.1,933.1 948.8,955.2 949.2,905.2 949.5,964.8 949.9,895.7 950.3,997.1 950.9,924.3 951.3,965.3 951.9,923.1 952.5,970.3 952.9,959.9 953.3,954.5 953.8,920.7 954.4,1016.8 954.7,954.3 955.3,921.0 955.8,906.8 956.2,939.5 956.7,1001.9 957.1,957.1 957.7,972.1 958.1,1007.6 958.7,960.0 959.1,1080.5 959.7,960.3 960.2,995.8 960.8,973.0 961.4,1002.4 961.9,982.7 962.3,898.6 962.7,909.5 963.1,898.2 963.7,958.5 964.3,1040.7 964.8,913.0 965.3,884.8 965.7,990.4 966.1,950.5 966.5,1020.3 966.9,999.9 967.3,932.5 967.8,1050.0 968.2,938.1 968.8,1040.2 969.4,999.2 969.9,1029.3 970.3,1090.4 970.7,1044.7 971.3,1003.3 971.8,1149.7 972.2,1016.6 972.8,1026.5 973.2,1044.3 973.8,1070.7 974.1,1120.9 974.8,994.1 975.3,1053.7 975.9,978.4 976.4,960.5 976.8,1043.7 977.4,987.5 978.0,1064.2 978.4,997.1 978.9,1008.0 979.3,1145.6 979.8,1035.5 980.1,1100.4 980.7,1202.8 981.2,1015.5 981.6,1078.3 982.2,1033.4 982.7,1083.4 983.2,1029.3 983.7,1067.5 984.3,1030.7 984.8,988.8 985.4,1029.2 985.8,1123.9 986.4,1025.2 987.0,1054.2 987.5,923.7 988.0,961.1 988.3,929.3 988.7,888.5 989.2,895.2 989.8,890.0 990.3,928.1 990.8,970.3 991.3,908.4 991.8,1005.2 992.2,908.1 992.6,999.6 993.2,991.9 993.8,980.1 994.2,1043.7 994.8,1013.6 995.2,918.6 995.8,968.2 996.2,903.6 996.7,944.4 997.2,1029.7 997.6,894.3 998.2,992.2 998.7,880.2 999.4,879.5 999.9,952.8 1000.5,924.9 1001.0,950.2 1001.5,1022.1 1002.0,954.0 1002.4,976.7 1002.9,939.2 1003.4,983.1 1003.8,971.3 1004.3,977.8 1004.9,925.4 1005.3,971.0 1005.8,936.6 1006.3,984.1 1006.6,920.0 1007.0,975.0 1007.7,904.8 1008.2,959.5 1008.7,906.2 1009.1,954.7 1009.7,915.0 1010.3,1054.3 1010.9,937.3 1011.3,995.3 1011.8,1058.0 1012.3,927.4 1012.8,1013.3 1013.3,1033.1 1013.8,1044.4 1014.5,942.0 1015.1,1066.2 1015.5,962.6 1015.9,988.8 1016.3,984.3 1016.7,987.1 1017.2,888.1 1017.8,913.6 1018.3,924.9 1018.6,945.4 1019.2,894.8 1019.5,1045.1 1020.0,904.3 1020.5,934.2 1021.0,914.2 1021.6,1014.7 1022.0,916.4 1022.5,961.1 1023.0,963.5 1023.5,922.4 1023.9,1016.0 1024.4,912.4 1024.8,890.2 1025.3,991.0 1025.9,973.7 1026.5,931.4 1026.8,993.4 1027.4,1023.4 1027.9,900.8 1028.4,926.8 1029.0,1001.4 1029.4,938.6 1030.0,901.9 1030.4,965.3 1030.7,940.4 1031.3,959.1 1031.7,934.7 1032.3,1058.7 1032.9,985.9 1033.3,942.3 1033.9,988.5 1034.3,921.8 1034.8,986.4 1035.2,947.2 1035.7,973.5 1036.1,929.6 1036.5,917.2 1036.9,983.5 1037.3,932.1 1037.7,927.0 1038.2,991.1 1038.6,917.1 1039.2,1013.3 1039.7,936.8 1040.2,956.4 1040.8,934.9 1041.3,972.8 1041.9,926.2 1042.5,1072.0 1043.0,890.9 1043.4,936.8 1044.0,927.7 1044.6,983.0 1045.1,915.2 1045.6,898.7 1046.1,989.1 1046.7,969.7 1047.3,914.0 1047.8,1022.5 1048.2,912.1 1048.8,981.8 1049.3,963.5 1049.9,944.9 1050.4,973.7 1050.9,894.7 1051.4,959.9 1051.9,1045.6 1052.3,920.1 1052.9,951.3 1053.5,930.7 1054.0,889.3 1054.5,926.1 1054.9,959.1 1055.5,914.1 1055.9,919.2 1056.4,963.6 1056.8,921.7 1057.2,920.2 1057.7,929.6 1058.3,991.5 1058.9,913.7 1059.5,938.0 1060.1,906.9 1060.5,948.4 1061.1,878.9 1061.6,984.5 1062.1,930.7 1062.6,866.2 1063.2,909.5 1063.7,832.4 1064.1,927.7 1064.6,851.3 1065.0,902.2 1065.5,821.2 1066.0,861.3 1066.6,925.0 1067.1,878.0 1067.6,921.4 1068.0,968.4 1068.4,1018.2 1069.0,891.4 1069.4,932.1 1069.9,968.9 1070.5,895.2 1070.8,902.4 1071.3,980.7 1071.9,890.4 1072.5,942.5 1073.1,948.1 1073.7,983.4 1074.1,912.0 1074.4,942.4 1074.9,903.0 1075.5,991.4 1076.0,1010.1 1076.5,923.3 1077.2,1050.9 1077.6,926.8 1078.0,983.7 1078.7,932.8 1079.1,967.2 1079.5,920.5 1080.1,962.3 1080.5,960.8 1081.1,923.9 1081.7,957.7 1082.1,903.2 1082.7,937.6 1083.1,885.6 1083.6,930.9 1084.1,893.0 1084.7,928.6 1085.3,843.3 1085.8,920.2 1086.3,868.3 1086.9,975.5 1087.6,860.3 1088.1,907.9 1088.6,928.3 1089.0,897.3 1089.7,943.6 1090.2,900.2 1090.6,888.4 1091.1,941.1 1091.7,907.9 1092.1,986.3 1092.7,1050.4 1093.1,912.7 1093.6,924.9 1094.2,987.1 1094.6,917.5 1095.1,948.4 1095.7,1000.5 1096.1,908.6 1096.5,907.7 1097.0,965.5 1097.6,1012.0 1098.2,896.9 1098.6,981.6 1099.2,898.5 1099.6,942.0 1100.2,951.3 1100.6,888.1 1101.0,953.0 1101.6,893.7 1102.0,962.5 1102.5,946.9 1103.1,902.6 1103.5,945.1 1103.9,893.5 1104.3,995.2 1104.8,883.0 1105.2,962.0 1105.6,881.8 1106.1,989.9 1106.6,906.5 1107.1,938.7 1107.6,893.9 1108.2,946.2 1108.8,932.6 1109.1,852.5 1109.7,986.1 1110.2,901.1 1110.7,924.4 1111.4,1038.0 1111.9,963.9 1112.6,891.2 1113.0,937.1 1113.4,889.2 1113.8,976.9 1114.2,881.0 1114.8,953.0 1115.4,1026.1 1115.8,924.7 1116.4,981.7 1116.8,1063.4 1117.5,931.4 1118.0,1012.2 1118.5,942.9 1119.2,1006.9 1119.8,951.8 1120.4,1061.8 1121.0,980.3 1121.6,1048.2 1122.0,958.7 1122.6,1034.2 1123.2,1025.0 1123.7,988.9 1124.2,1054.8 1124.7,1037.0 1125.3,966.5 1125.9,1056.2 1126.4,1051.1 1126.9,1039.5 1127.6,1003.9 1128.1,1035.2 1128.7,976.9 1129.0,1045.2 1129.5,995.0 1130.0,1063.8 1130.4,986.6 1131.0,1022.2 1131.5,1020.5 1132.0,968.0 1132.5,1083.5 1132.8,924.5 1133.3,998.5 1133.7,921.4 1134.4,992.3 1135.0,890.3 1135.3,967.1 1135.8,887.6 1136.2,979.1 1136.9,891.5 1137.2,942.2 1137.8,941.8 1138.5,961.1 1138.8,900.8 1139.3,945.5 1140.0,889.3 1140.6,996.0 1141.1,1034.7 1141.7,913.9 1160.0,969.0" fill="none" stroke="#EE7B2E" stroke-width="1.3" stroke-linejoin="round" stroke-linecap="round" />
<line x1="959.6" y1="900" x2="959.6" y2="1478" stroke="#E8822E" stroke-width="1.3"/>
<line x1="927" y1="900" x2="927" y2="1313" stroke="#E8822E" stroke-width="1.3"/>
<line x1="696.5" y1="900" x2="696.5" y2="1040" stroke="#E8822E" stroke-width="1.3"/>
<line x1="336" y1="833" x2="336" y2="860" stroke="#E8822E" stroke-width="1.3"/>
<line x1="433" y1="840" x2="433" y2="882" stroke="#E8822E" stroke-width="1.3"/>
<line x1="976" y1="950" x2="976" y2="1130" stroke="#E8822E" stroke-width="1.3"/>
<line x1="980" y1="960" x2="980" y2="1140" stroke="#E8822E" stroke-width="1.3"/>
<line x1="238.5" y1="828" x2="238.5" y2="834" stroke="#E8822E" stroke-width="1.3"/>
<line x1="283.5" y1="830" x2="283.5" y2="840.7" stroke="#E8822E" stroke-width="1.3"/>
<line x1="289" y1="830" x2="289" y2="839.6" stroke="#E8822E" stroke-width="1.3"/>
<line x1="315.4" y1="828" x2="315.4" y2="840.7" stroke="#E8822E" stroke-width="1.3"/>
<line x1="353.2" y1="830" x2="353.2" y2="841.8" stroke="#E8822E" stroke-width="1.3"/>
<line x1="408.4" y1="836" x2="408.4" y2="852.7" stroke="#E8822E" stroke-width="1.3"/>
<line x1="475.8" y1="832" x2="475.8" y2="844" stroke="#E8822E" stroke-width="1.3"/>
<line x1="547" y1="835" x2="547" y2="846" stroke="#E8822E" stroke-width="1.3"/>
<path d="M213.5,1012.9 C214.4,1013.1 216.2,1014.3 218.7,1014.1 C221.2,1013.9 225.1,1012.3 228.6,1011.6 C232.1,1011.0 235.9,1009.8 239.6,1010.0 C243.2,1010.1 246.1,1012.2 250.5,1012.4 C254.9,1012.6 261.5,1011.5 265.9,1011.2 C270.3,1010.9 274.0,1009.7 276.9,1010.4 C279.8,1011.1 281.5,1014.8 283.5,1015.3 C285.5,1015.9 286.8,1015.3 289.0,1013.7 C291.2,1012.0 294.3,1007.0 296.7,1005.5 C299.1,1004.0 301.3,1004.1 303.3,1004.5 C305.3,1004.8 307.0,1006.2 308.8,1007.5 C310.6,1008.8 311.9,1011.6 314.3,1012.4 C316.7,1013.3 320.9,1012.2 323.1,1012.4 C325.3,1012.6 325.9,1012.6 327.5,1013.7 C329.1,1014.8 331.2,1018.4 333.0,1019.0 C334.8,1019.7 336.7,1018.7 338.5,1017.4 C340.3,1016.1 342.2,1011.8 344.0,1011.2 C345.8,1010.6 347.5,1012.7 349.5,1013.7 C351.5,1014.6 354.0,1017.1 356.0,1016.8 C358.0,1016.5 359.7,1013.4 361.5,1011.9 C363.3,1010.3 364.6,1008.2 367.0,1007.5 C369.4,1006.8 372.9,1007.2 375.8,1007.5 C378.7,1007.8 381.7,1008.6 384.6,1009.4 C387.5,1010.2 390.8,1011.7 393.4,1012.4 C396.0,1013.1 397.6,1011.8 400.0,1013.7 C402.4,1015.5 405.3,1023.5 407.7,1023.5 C410.1,1023.5 411.9,1015.5 414.3,1013.7 C416.7,1011.8 419.8,1011.6 422.0,1012.4 C424.2,1013.3 426.0,1015.3 427.5,1018.6 C429.0,1021.9 429.3,1030.7 430.8,1032.1 C432.3,1033.6 435.0,1029.8 436.3,1027.2 C437.6,1024.7 433.2,1018.5 438.5,1016.8 C443.8,1015.1 462.1,1016.4 468.1,1016.8 C474.1,1017.2 471.9,1020.2 474.7,1019.0 C477.4,1017.9 481.7,1010.5 484.6,1010.0 C487.5,1009.5 489.7,1015.1 492.3,1016.1 C494.9,1017.2 497.6,1015.7 500.0,1016.1 C502.4,1016.5 504.2,1017.8 506.6,1018.6 C509.0,1019.4 511.9,1021.4 514.3,1021.1 C516.7,1020.7 516.7,1017.3 520.9,1016.6 C525.1,1015.8 535.4,1015.4 539.6,1016.6 C543.8,1017.7 544.0,1023.4 546.2,1023.5 C548.4,1023.7 550.3,1019.2 552.7,1017.4 C555.1,1015.5 556.4,1013.3 560.4,1012.4 C564.4,1011.6 572.3,1012.6 576.9,1012.4 C581.5,1012.2 582.4,1011.3 587.9,1011.2 C593.4,1011.1 605.3,1011.5 609.9,1011.9 C614.5,1012.3 613.0,1012.7 615.4,1013.7 C617.8,1014.7 621.5,1015.8 624.2,1017.8 C627.0,1019.9 629.9,1024.8 631.9,1026.0 C633.9,1027.1 634.6,1023.5 636.3,1024.8 C637.9,1026.0 639.4,1033.2 641.8,1033.4 C644.2,1033.6 648.0,1025.4 650.5,1026.0 C653.0,1026.6 654.7,1036.5 657.1,1037.0 C659.5,1037.4 662.4,1027.2 664.8,1028.4 C667.2,1029.7 669.4,1042.3 671.4,1044.4 C673.4,1046.4 675.5,1039.9 676.9,1040.7 C678.3,1041.4 678.6,1046.1 680.0,1049.0 C681.4,1051.9 683.9,1053.1 685.1,1057.8 C686.3,1062.5 686.6,1073.5 687.3,1076.9 C688.0,1080.3 688.6,1074.0 689.5,1078.4 C690.4,1082.8 691.5,1089.7 692.5,1103.3 C693.5,1116.9 694.6,1140.8 695.5,1160.0 C696.4,1179.2 696.6,1230.7 697.6,1218.3 C698.6,1205.9 700.1,1108.3 701.2,1085.7 C702.3,1063.1 703.2,1085.0 704.2,1082.7 C705.2,1080.4 706.2,1073.2 707.1,1071.8 C708.0,1070.3 708.3,1076.2 709.3,1074.0 C710.3,1071.8 711.6,1057.9 713.0,1058.6 C714.4,1059.3 715.6,1080.5 717.4,1078.4 C719.2,1076.3 722.4,1048.3 724.0,1046.1 C725.6,1043.9 725.6,1061.9 726.9,1065.2 C728.2,1068.5 730.0,1059.6 732.0,1065.9 C734.0,1072.2 736.8,1092.1 738.6,1103.3 C740.4,1114.5 741.4,1134.3 743.0,1133.3 C744.6,1132.3 746.5,1106.4 748.1,1097.4 C749.7,1088.4 750.9,1075.7 752.5,1079.1 C754.1,1082.5 756.1,1106.6 757.7,1117.9 C759.3,1129.2 760.3,1148.2 762.0,1147.2 C763.7,1146.2 766.1,1124.5 767.9,1112.1 C769.7,1099.6 771.5,1076.4 773.0,1072.5 C774.5,1068.6 775.1,1074.8 776.7,1088.6 C778.3,1102.4 780.7,1155.0 782.6,1155.3 C784.5,1155.5 786.7,1097.8 788.4,1090.1 C790.1,1082.4 791.4,1110.2 792.8,1109.1 C794.1,1108.0 794.5,1083.0 796.5,1083.5 C798.5,1084.0 802.5,1111.2 804.5,1112.1 C806.5,1112.9 806.1,1080.7 808.2,1088.6 C810.3,1096.5 815.0,1154.1 817.0,1159.7 C819.0,1165.3 819.0,1121.9 819.9,1122.3 C820.8,1122.7 821.0,1168.0 822.1,1161.9 C823.2,1155.8 825.3,1092.1 826.5,1085.7 C827.7,1079.3 828.1,1124.0 829.5,1123.8 C830.9,1123.5 832.8,1079.1 834.6,1084.2 C836.4,1089.3 838.8,1151.3 840.4,1154.5 C842.0,1157.7 842.9,1107.9 844.1,1103.3 C845.3,1098.7 846.7,1125.6 847.8,1126.7 C848.9,1127.8 849.1,1114.1 850.7,1109.9 C852.3,1105.8 855.5,1095.8 857.3,1101.8 C859.1,1107.8 860.0,1146.4 861.7,1145.8 C863.4,1145.2 866.1,1106.4 867.5,1098.1 C868.9,1089.8 868.7,1100.3 870.0,1096.2 C871.3,1092.1 873.5,1067.1 875.2,1073.3 C876.9,1079.5 878.9,1128.2 880.4,1133.6 C881.9,1139.0 882.9,1103.1 884.0,1105.5 C885.1,1107.9 885.7,1151.5 887.2,1148.2 C888.7,1144.9 891.4,1097.2 892.9,1085.8 C894.4,1074.3 895.3,1077.6 896.5,1079.5 C897.7,1081.4 898.9,1098.8 900.2,1097.2 C901.5,1095.7 902.8,1073.2 904.3,1070.2 C905.8,1067.2 907.6,1070.2 909.0,1079.5 C910.4,1088.8 911.0,1123.5 912.6,1126.3 C914.2,1129.1 917.0,1086.0 918.9,1096.2 C920.8,1106.4 922.6,1179.7 924.1,1187.7 C925.6,1195.7 925.6,1149.7 927.7,1144.0 C929.8,1138.3 934.9,1159.5 936.6,1153.4 C938.3,1147.3 936.9,1109.7 938.1,1107.6 C939.3,1105.5 942.3,1135.2 943.9,1140.9 C945.5,1146.6 946.2,1145.4 947.5,1141.9 C948.8,1138.4 950.5,1123.4 951.7,1120.1 C952.9,1116.8 953.5,1111.3 954.8,1122.2 C956.1,1133.1 958.0,1186.5 959.5,1185.6 C961.0,1184.7 961.7,1105.5 963.6,1117.0 C965.5,1128.5 969.1,1245.5 970.9,1254.3 C972.7,1263.1 972.9,1164.5 974.5,1170.0 C976.1,1175.5 978.7,1276.0 980.3,1287.6 C981.9,1299.2 982.4,1266.9 983.9,1239.7 C985.4,1212.5 987.6,1138.5 989.1,1124.3 C990.6,1110.1 991.1,1157.2 992.7,1154.4 C994.3,1151.6 997.0,1107.6 998.5,1107.6 C1000.0,1107.6 1000.7,1147.6 1001.6,1154.4 C1002.5,1161.2 1002.6,1153.5 1003.7,1148.3 C1004.8,1143.1 1006.4,1114.7 1008.1,1123.4 C1009.8,1132.1 1011.7,1203.1 1013.7,1200.6 C1015.7,1198.1 1018.0,1118.2 1019.9,1108.5 C1021.8,1098.8 1023.8,1135.9 1024.9,1142.1 C1026.1,1148.3 1025.9,1146.0 1026.8,1145.8 C1027.7,1145.6 1029.2,1139.3 1030.5,1140.8 C1031.8,1142.2 1033.6,1155.1 1034.9,1154.5 C1036.2,1153.9 1037.1,1137.7 1038.6,1137.1 C1040.0,1136.5 1041.6,1156.0 1043.6,1150.8 C1045.6,1145.6 1048.8,1109.7 1050.4,1106.0 C1052.1,1102.3 1052.5,1123.8 1053.5,1128.4 C1054.5,1133.0 1054.9,1144.0 1056.7,1133.4 C1058.5,1122.8 1062.2,1071.8 1064.1,1064.9 C1066.0,1058.1 1066.6,1084.4 1067.9,1092.3 C1069.2,1100.2 1070.7,1103.2 1072.2,1112.2 C1073.8,1121.2 1075.0,1149.1 1077.2,1146.4 C1079.4,1143.7 1082.8,1101.1 1085.3,1096.0 C1087.8,1090.9 1090.3,1110.5 1092.2,1115.9 C1094.1,1121.3 1095.0,1127.2 1096.5,1128.4 C1098.0,1129.7 1099.5,1126.5 1100.9,1123.4 C1102.4,1120.3 1103.8,1113.8 1105.2,1109.7 C1106.7,1105.7 1108.2,1099.9 1109.6,1099.1 C1110.9,1098.3 1112.2,1097.8 1113.3,1104.7 C1114.4,1111.7 1115.2,1125.7 1116.4,1140.8 C1117.7,1155.9 1119.7,1186.0 1120.8,1195.6 C1121.9,1205.1 1121.9,1192.9 1123.3,1198.1 C1124.7,1203.3 1127.5,1225.8 1128.9,1226.8 C1130.4,1227.8 1130.9,1220.5 1132.0,1204.3 C1133.1,1188.1 1134.7,1143.5 1135.7,1129.6 C1136.7,1115.7 1137.1,1123.5 1138.2,1120.9 C1139.3,1118.3 1141.9,1115.2 1142.6,1114.1" fill="none" stroke="#FF1A0A" stroke-width="3.7" stroke-linejoin="round" stroke-linecap="round" />
<path d="M213.5,829.0 C214.4,829.2 216.2,830.3 218.7,830.1 C221.2,829.9 225.1,828.5 228.6,827.9 C232.1,827.3 235.9,826.3 239.6,826.4 C243.2,826.5 246.1,828.4 250.5,828.6 C254.9,828.8 261.5,827.8 265.9,827.5 C270.3,827.2 274.0,826.2 276.9,826.8 C279.8,827.4 281.5,830.7 283.5,831.2 C285.5,831.7 286.8,831.2 289.0,829.7 C291.2,828.2 294.3,823.8 296.7,822.4 C299.1,821.0 301.3,821.2 303.3,821.5 C305.3,821.8 307.0,823.0 308.8,824.2 C310.6,825.4 311.9,827.9 314.3,828.6 C316.7,829.3 320.9,828.4 323.1,828.6 C325.3,828.8 325.9,828.7 327.5,829.7 C329.1,830.7 331.2,834.0 333.0,834.5 C334.8,835.0 336.7,834.2 338.5,833.0 C340.3,831.8 342.2,828.0 344.0,827.5 C345.8,827.0 347.5,828.9 349.5,829.7 C351.5,830.5 354.0,832.8 356.0,832.5 C358.0,832.2 359.7,829.5 361.5,828.1 C363.3,826.7 364.6,824.9 367.0,824.2 C369.4,823.6 372.9,823.9 375.8,824.2 C378.7,824.5 381.7,825.2 384.6,825.9 C387.5,826.6 390.8,828.0 393.4,828.6 C396.0,829.2 397.6,828.1 400.0,829.7 C402.4,831.4 405.3,838.5 407.7,838.5 C410.1,838.5 411.9,831.4 414.3,829.7 C416.7,828.1 419.8,827.9 422.0,828.6 C424.2,829.3 426.0,831.2 427.5,834.1 C429.0,837.0 429.3,844.9 430.8,846.2 C432.3,847.5 435.0,844.1 436.3,841.8 C437.6,839.5 433.2,834.0 438.5,832.5 C443.8,831.0 462.1,832.2 468.1,832.5 C474.1,832.8 471.9,835.5 474.7,834.5 C477.4,833.5 481.7,826.8 484.6,826.4 C487.5,826.0 489.7,831.0 492.3,831.9 C494.9,832.8 497.6,831.5 500.0,831.9 C502.4,832.3 504.2,833.4 506.6,834.1 C509.0,834.8 511.9,836.6 514.3,836.3 C516.7,836.0 516.7,833.0 520.9,832.3 C525.1,831.6 535.4,831.3 539.6,832.3 C543.8,833.3 544.0,838.4 546.2,838.5 C548.4,838.6 550.3,834.6 552.7,833.0 C555.1,831.4 556.4,829.3 560.4,828.6 C564.4,827.9 572.3,828.8 576.9,828.6 C581.5,828.4 582.4,827.6 587.9,827.5 C593.4,827.4 605.3,827.7 609.9,828.1 C614.5,828.5 613.0,828.8 615.4,829.7 C617.8,830.6 621.5,831.6 624.2,833.4 C627.0,835.2 629.9,839.7 631.9,840.7 C633.9,841.7 634.6,838.5 636.3,839.6 C637.9,840.7 639.4,847.1 641.8,847.3 C644.2,847.5 648.0,840.2 650.5,840.7 C653.0,841.2 654.7,850.1 657.1,850.5 C659.5,850.9 662.4,841.8 664.8,842.9 C667.2,844.0 669.4,855.3 671.4,857.1 C673.4,858.9 675.5,853.0 676.9,853.8 C678.3,854.6 678.6,859.2 680.0,862.0 C681.4,864.8 683.9,865.2 685.1,870.8 C686.3,876.4 686.6,892.5 687.3,895.7 C688.0,898.9 688.2,886.6 689.1,889.8 C690.0,893.0 691.4,903.0 692.5,914.7 C693.6,926.4 694.6,943.8 695.5,960.0 C696.4,976.2 697.1,1002.3 697.6,1012.0 C698.1,1021.7 697.8,1036.9 698.3,1018.0 C698.8,999.1 699.5,918.4 700.5,898.6 C701.5,878.8 703.1,901.7 704.2,899.3 C705.3,896.9 706.2,886.7 707.1,884.0 C708.0,881.3 708.3,885.8 709.3,883.2 C710.3,880.6 711.6,867.7 713.0,868.6 C714.4,869.5 715.6,890.2 717.4,888.4 C719.2,886.6 722.4,859.4 724.0,857.6 C725.6,855.8 725.6,874.0 726.9,877.4 C728.2,880.8 730.5,874.1 732.0,878.1 C733.5,882.1 734.5,895.1 735.7,901.5 C736.9,907.9 738.1,908.9 739.3,916.2 C740.5,923.5 741.5,947.0 743.0,945.5 C744.5,944.0 746.5,916.9 748.1,907.4 C749.7,897.9 750.9,886.0 752.5,888.4 C754.1,890.8 756.1,912.0 757.7,922.0 C759.3,932.0 760.3,949.2 762.0,948.4 C763.7,947.5 766.1,927.1 767.9,916.9 C769.7,906.6 771.5,889.0 773.0,886.9 C774.5,884.8 775.1,892.3 776.7,904.5 C778.3,916.7 780.7,961.3 782.6,960.1 C784.5,958.9 786.7,904.4 788.4,897.1 C790.1,889.8 791.3,916.9 792.8,916.2 C794.3,915.5 795.2,891.0 797.2,892.7 C799.2,894.4 802.5,925.4 804.5,926.4 C806.5,927.4 806.8,893.2 808.9,898.6 C811.0,904.0 815.0,953.3 817.0,958.7 C819.0,964.1 819.7,932.4 820.7,930.8 C821.7,929.2 821.9,955.4 822.9,949.2 C823.9,943.0 825.2,896.3 826.5,893.5 C827.8,890.7 829.5,931.9 830.9,932.3 C832.3,932.7 833.3,891.8 834.9,895.7 C836.5,899.6 838.9,953.4 840.4,955.8 C841.9,958.2 842.9,914.0 844.1,910.3 C845.3,906.6 846.8,931.8 847.8,933.8 C848.8,935.8 848.3,926.6 850.0,922.0 C851.7,917.4 855.9,901.7 858.0,905.9 C860.1,910.1 860.8,946.3 862.4,947.0 C864.0,947.7 866.2,916.5 867.5,910.3 C868.8,904.1 868.9,910.3 870.0,909.7 C871.1,909.1 873.2,911.0 874.1,906.7 C875.0,902.4 874.6,878.0 875.6,884.1 C876.6,890.2 878.8,939.0 880.3,943.6 C881.8,948.2 883.3,910.6 884.4,911.8 C885.5,913.0 885.6,953.2 886.9,950.8 C888.2,948.4 890.6,907.7 892.1,897.4 C893.6,887.1 894.3,888.5 895.6,889.2 C896.9,889.9 898.3,903.2 899.7,901.5 C901.1,899.8 902.8,879.7 903.8,879.0 C904.8,878.3 905.0,895.2 905.9,897.4 C906.8,899.6 907.9,886.5 909.0,892.3 C910.1,898.1 911.3,926.8 912.6,932.3 C913.9,937.8 915.6,930.4 916.7,925.1 C917.8,919.8 918.0,883.8 919.2,900.5 C920.4,917.2 922.8,1015.5 923.8,1025.6 C924.8,1035.7 924.5,968.2 924.9,961.0 C925.3,953.8 925.8,983.8 926.4,982.6 C927.0,981.4 927.0,958.2 928.5,953.8 C930.0,949.3 934.2,954.3 935.6,955.9 C937.0,957.5 936.3,968.7 936.7,963.1 C937.1,957.5 937.4,927.6 938.2,922.1 C939.1,916.6 940.9,927.2 941.8,930.3 C942.7,933.4 942.9,936.8 943.8,940.5 C944.7,944.2 946.2,953.5 947.4,952.3 C948.6,951.1 949.9,934.6 951.0,933.3 C952.1,932.0 953.4,944.9 954.1,944.6 C954.8,944.3 954.2,918.3 955.1,931.3 C956.0,944.3 958.2,1023.5 959.7,1022.6 C961.2,1021.8 961.9,919.5 963.8,926.2 C965.7,932.9 968.9,1052.9 971.0,1062.6 C973.1,1072.3 975.2,981.9 976.7,984.6 C978.2,987.3 979.1,1071.5 980.3,1079.0 C981.5,1086.5 982.3,1054.5 983.8,1029.7 C985.2,1004.9 987.5,942.8 989.0,930.3 C990.5,917.8 991.0,957.6 992.6,954.9 C994.2,952.1 997.2,911.9 998.7,913.8 C1000.2,915.7 1000.5,958.0 1001.3,966.2 C1002.1,974.5 1002.6,969.2 1003.7,963.3 C1004.8,957.4 1006.4,924.3 1008.1,930.9 C1009.8,937.5 1011.7,1005.6 1013.7,1003.1 C1015.7,1000.6 1018.0,924.9 1019.9,916.0 C1021.8,907.1 1023.8,943.4 1024.9,949.6 C1026.1,955.8 1025.9,953.5 1026.8,953.3 C1027.7,953.1 1029.2,947.7 1030.5,948.3 C1031.8,948.9 1033.6,958.1 1034.9,957.1 C1036.2,956.1 1037.1,942.9 1038.6,942.1 C1040.0,941.3 1041.6,955.7 1043.6,952.1 C1045.6,948.5 1048.8,921.8 1050.4,920.3 C1052.1,918.8 1052.5,938.9 1053.5,943.4 C1054.5,947.9 1054.9,957.9 1056.7,947.1 C1058.5,936.3 1062.2,885.9 1064.1,878.6 C1066.0,871.3 1066.8,896.0 1067.9,903.5 C1069.1,911.0 1070.0,919.0 1071.0,923.4 C1072.0,927.8 1073.0,924.8 1074.1,929.7 C1075.2,934.6 1075.9,956.7 1077.8,952.7 C1079.7,948.8 1083.0,910.0 1085.3,906.0 C1087.6,902.0 1089.8,922.8 1091.5,928.4 C1093.2,934.0 1093.7,939.2 1095.3,939.6 C1096.9,940.0 1099.2,934.2 1100.9,930.9 C1102.6,927.6 1104.0,923.1 1105.2,919.7 C1106.4,916.3 1107.0,911.0 1108.3,910.4 C1109.6,909.8 1111.9,907.4 1113.3,916.0 C1114.7,924.6 1115.2,947.7 1116.4,962.0 C1117.6,976.3 1119.1,994.7 1120.2,1001.9 C1121.3,1009.1 1122.2,1000.5 1123.3,1005.0 C1124.4,1009.5 1125.8,1027.2 1127.0,1028.7 C1128.2,1030.2 1129.3,1032.2 1130.8,1014.3 C1132.2,996.3 1134.5,935.3 1135.7,921.0 C1136.9,906.7 1137.1,927.8 1138.2,928.4 C1139.3,929.0 1141.9,925.3 1142.6,924.7" fill="none" stroke="#161616" stroke-width="3.7" stroke-linejoin="round" stroke-linecap="round" />
<polyline points="205.4,1344.3 213.4,1431.3 221.1,1400.4 229.7,1404.0 237.2,1412.9 244.5,1406.3 252.5,1407.9 260.4,1408.3 268.4,1418.1 275.9,1401.7 283.6,1360.2 291.1,1397.7 299.0,1432.2 306.3,1434.0 313.8,1427.2 321.7,1422.0 328.5,1388.6 335.4,1398.8 343.3,1412.0 350.1,1406.3 356.9,1413.1 363.7,1414.0 370.1,1431.3 376.2,1418.1 383.0,1419.2 389.2,1434.5 395.5,1422.0 401.2,1367.0 407.4,1345.0 413.3,1413.6 419.4,1419.9 424.6,1390.8 430.7,1377.2 436.9,1387.4 442.1,1390.8 448.5,1380.6 453.5,1356.8 459.6,1340.4 464.8,1374.5 471.2,1370.4 476.9,1370.4 481.8,1334.5 488.0,1339.1 493.4,1360.9 499.1,1343.2 504.8,1338.6 510.0,1327.7 515.4,1345.4 521.8,1339.7 531.3,1333.6 537.7,1322.7 542.7,1350.0 548.6,1351.1 554.0,1379.5 559.3,1390.8 565.0,1388.6 569.5,1415.8 575.2,1437.9 580.8,1418.1 585.4,1390.8 590.4,1376.1 594.9,1392.0 600.2,1393.6 604.7,1346.6 608.6,1396.5 614.5,1398.3 619.5,1372.7 623.3,1330.7 627.4,1365.9 632.0,1381.3 636.5,1351.1 640.4,1345.4 644.4,1364.7 648.3,1354.5 652.4,1379.5 656.9,1388.1 660.8,1368.1 664.4,1363.6 667.8,1349.5 671.7,1370.4 675.1,1363.1 679.6,1386.3 684.9,1449.9 691.0,1484.0 695.5,1493.0 697.8,1511.2 700.1,1436.3 703.5,1429.5 709.2,1360.2 712.6,1351.8 714.8,1386.3 717.8,1399.9 721.0,1381.8 723.3,1310.2 726.9,1321.6 728.5,1404.5 731.9,1347.7 737.6,1406.7 739.8,1424.9 743.2,1452.2 746.6,1430.6 749.6,1388.6 753.0,1398.8 755.7,1434.0 762.5,1459.0 768.9,1412.4 772.8,1406.7 776.2,1431.7 779.1,1482.8 783.0,1463.5 785.9,1426.1 790.0,1414.4 795.6,1370.4 799.7,1410.2 802.5,1407.4 810.9,1452.0 813.7,1436.6 819.2,1453.9 822.0,1399.0 830.4,1432.5 835.9,1417.1 840.1,1408.8 842.9,1413.0 845.7,1400.4 848.5,1400.4 852.6,1436.6 856.8,1355.9 859.6,1365.6 861.8,1397.7 863.8,1372.6 868.0,1393.5 870.7,1219.5 873.5,1247.3 876.3,1350.3 880.5,1362.9 883.3,1350.3 886.0,1351.7 889.7,1396.3 892.4,1390.7 895.2,1361.5 900.0,1381.0 902.8,1303.0 906.9,1358.7 910.3,1357.3 913.1,1343.4 915.8,1346.2 918.1,1390.7 920.3,1265.4 923.1,1367.0 926.4,1394.9 930.6,1278.0 934.2,1272.4 937.5,1360.1 941.7,1357.3 946.5,1392.1 950.1,1392.1 952.9,1367.0 957.0,1361.5 959.8,1392.1 966.8,1336.4 973.2,1415.8 980.7,1342.0 984.9,1353.1 989.9,1355.9 994.6,1344.8 1000.2,1287.7 1004.4,1365.6 1008.5,1328.1 1012.7,1381.0 1016.9,1293.3 1021.1,1351.7 1026.1,1321.1 1030.0,1321.1 1035.0,1326.7 1039.2,1351.7 1043.9,1390.7 1048.3,1330.8 1053.1,1335.0 1058.7,1314.1 1063.4,1241.8 1068.4,1318.3 1079.5,1328.1 1084.5,1296.0 1089.3,1296.9 1096.2,1321.1 1101.2,1381.0 1106.8,1312.8 1112.9,1316.9 1119.1,1312.8 1124.1,1350.3 1129.1,1349.8 1136.6,1385.1 1143.6,1308.6 1149.1,1301.6 1155.2,1308.6 1162.5,1283.5 1168.0,1318.0" fill="none" stroke="#000" stroke-width="3.2" stroke-linejoin="round" stroke-linecap="round" />
<polyline points="205.7,1694.2 221.8,1672.9 231.1,1675.2 242.3,1681.2 253.5,1688.3 264.7,1686.8 279.7,1684.1 298.4,1679.3 313.3,1682.6 328.3,1683.4 343.2,1692.4 356.3,1681.2 371.2,1674.4 382.4,1672.9 395.5,1662.5 406.7,1659.9 419.1,1677.0 429.2,1663.2 442.2,1683.0 455.3,1667.7 465.8,1669.9 475.9,1650.1 496.4,1616.5 509.5,1594.1 520.7,1603.4 530.8,1573.5 533.8,1570.5 543.1,1573.5 553.2,1554.8 563.7,1547.4 574.9,1537.3 586.1,1538.4 595.5,1549.2 604.8,1534.3 612.3,1534.3 623.5,1550.4 632.8,1559.7 640.3,1576.5 642.9,1576.5 648.9,1559.7 655.2,1586.6 659.0,1584.7 664.6,1560.4 672.1,1544.4 677.7,1594.1 682.4,1674.3 687.1,1807.6 689.0,1880.0 690.5,1946.0 693.4,1970.0 698.0,1976.0 699.2,1930.0 700.2,1880.0 702.4,1731.4 704.3,1657.1 708.1,1645.7 711.0,1646.7 716.7,1668.6 721.0,1676.2 723.3,1632.4 727.1,1614.3 731.0,1626.7 737.6,1681.9 743.9,1785.7 747.1,1712.4 750.6,1664.8 759.5,1746.7 763.3,1759.0 770.0,1689.5 773.4,1685.3 776.7,1690.5 783.3,1762.9 789.0,1740.0 795.7,1689.5 801.4,1679.0 806.2,1665.7 810.0,1683.8 819.5,1823.8 822.4,1699.0 825.8,1669.5 829.0,1743.8 832.9,1737.1 838.6,1700.0 845.2,1705.7 848.7,1686.7 855.1,1801.9 862.0,1707.6 865.2,1719.0 868.5,1809.5 871.9,1735.2 875.3,1710.5 878.6,1720.0 881.4,1648.6 884.9,1652.4 888.1,1675.2 891.0,1637.1 894.8,1633.3 898.2,1637.1 901.4,1633.3 907.7,1582.9 911.0,1601.9 916.7,1666.7 921.4,1681.9 924.3,1712.4 927.5,1780.0 931.0,1754.3 933.2,1672.4 937.6,1661.9 944.3,1668.6 950.0,1676.2 954.2,1687.6 956.7,1712.4 960.5,1721.9 966.8,1648.6 970.0,1712.4 973.2,1762.9 979.5,1740.0 986.2,1775.2 990.0,1769.5 996.7,1707.6 1003.0,1735.2 1007.1,1732.4 1018.6,1694.3 1022.4,1690.5 1029.0,1691.4 1039.1,1632.4 1049.0,1790.5 1058.6,1706.7 1068.5,1677.1 1078.6,1790.5 1088.1,1675.2 1091.9,1675.2 1101.4,1761.9 1111.9,1736.2 1114.8,1736.2 1124.3,1750.5 1133.8,1859.0 1137.6,1868.6 1150.0,1685.7 1160.5,1693.3 1164.3,1708.6 1167.1,1734.3" fill="none" stroke="#163A33" stroke-width="3.2" stroke-linejoin="round" stroke-linecap="round" />
<polyline points="306.8,2031.2 425.1,2011.4 570.0,2018.6 703.5,2012.0 810.5,1982.7 937.6,2019.0 1020.8,2005.7 1142.7,2010.7" fill="none" stroke="#000" stroke-width="3" stroke-linejoin="round" stroke-linecap="round" />
<circle cx="306.8" cy="2031.2" r="9.5" fill="#F5661C" stroke="#D9561A" stroke-width="0.8"/>
<circle cx="425.1" cy="2011.4" r="9.5" fill="#F5661C" stroke="#D9561A" stroke-width="0.8"/>
<circle cx="570" cy="2018.6" r="9.5" fill="#F5661C" stroke="#D9561A" stroke-width="0.8"/>
<circle cx="703.5" cy="2012" r="9.5" fill="#F5661C" stroke="#D9561A" stroke-width="0.8"/>
<circle cx="810.5" cy="1982.7" r="9.5" fill="#F5661C" stroke="#D9561A" stroke-width="0.8"/>
<circle cx="937.6" cy="2019" r="9.5" fill="#F5661C" stroke="#D9561A" stroke-width="0.8"/>
<circle cx="1020.8" cy="2005.7" r="9.5" fill="#F5661C" stroke="#D9561A" stroke-width="0.8"/>
<circle cx="1142.7" cy="2010.7" r="9.5" fill="#F5661C" stroke="#D9561A" stroke-width="0.8"/>
<line x1="254.5" y1="2011.3" x2="1169" y2="2011.3" stroke="#000" stroke-width="3" stroke-dasharray="6.2 13.4" stroke-linecap="round" stroke-dashoffset="-1.7"/>
<path d="M183.0,2084.5 C195.8,2084.6 235.1,2084.8 260.0,2085.2 C284.9,2085.6 308.3,2085.7 332.4,2086.8 C356.5,2087.9 388.9,2089.5 404.8,2091.7 C420.7,2093.8 420.0,2096.8 427.6,2099.7 C435.2,2102.6 443.2,2105.1 450.5,2109.2 C457.8,2113.3 464.7,2118.4 471.4,2124.1 C478.1,2129.8 485.4,2139.2 490.5,2143.5 C495.6,2147.8 495.2,2145.1 501.9,2150.0 C508.6,2154.9 522.6,2165.8 530.5,2172.9 C538.4,2180.0 544.8,2188.6 549.5,2192.7 C554.2,2196.8 553.3,2196.1 559.0,2197.6 C564.7,2199.1 575.8,2198.5 583.8,2201.4 C591.8,2204.3 598.5,2209.9 606.7,2214.8 C615.0,2219.8 624.7,2221.1 633.3,2231.1 C641.9,2241.1 651.4,2268.6 658.1,2274.6 C664.8,2280.6 668.8,2267.1 673.3,2267.3 C677.8,2267.5 680.6,2271.7 684.8,2275.7 C689.0,2279.7 693.0,2285.8 698.3,2291.1 C703.6,2296.4 711.4,2303.9 716.6,2307.6 C721.8,2311.3 723.4,2312.5 729.5,2313.1 C735.6,2313.7 744.4,2311.7 753.3,2311.3 C762.1,2310.9 774.7,2309.6 782.6,2310.5 C790.5,2311.4 793.6,2314.4 800.9,2316.8 C808.2,2319.2 818.0,2322.6 826.5,2325.2 C835.0,2327.8 844.9,2331.3 852.2,2332.5 C859.5,2333.7 850.4,2333.6 870.5,2332.5 C890.6,2331.4 937.6,2328.2 973.0,2325.9 C1008.4,2323.6 1054.2,2320.3 1082.9,2318.6 C1111.6,2316.9 1133.6,2316.9 1145.2,2315.7 C1156.8,2314.5 1150.0,2313.9 1152.5,2311.3 C1155.0,2308.7 1157.2,2304.8 1159.9,2300.3 C1162.7,2295.8 1167.5,2287.1 1169.0,2284.5" fill="none" stroke="#F26522" stroke-width="3.2" stroke-linejoin="round" stroke-linecap="round" />
<path d="M230.9,2357.2 L245.3,2357.2 L238.1,2369.1 Z" fill="#000"/>
<path d="M341.4,2357.2 L355.8,2357.2 L348.6,2369.1 Z" fill="#000"/>
<path d="M440.7,2357.2 L455.1,2357.2 L447.9,2369.1 Z" fill="#000"/>
<path d="M518.9,2357.2 L533.3,2357.2 L526.1,2369.1 Z" fill="#000"/>
<path d="M547.2,2357.2 L561.6,2357.2 L554.4,2369.1 Z" fill="#000"/>
<path d="M623.7,2357.2 L638.1,2357.2 L630.9,2369.1 Z" fill="#000"/>
<path d="M690.2,2357.2 L704.6,2357.2 L697.4,2369.1 Z" fill="#000"/>
<path d="M737.7,2357.2 L752.1,2357.2 L744.9,2369.1 Z" fill="#000"/>
<path d="M784.9,2357.2 L799.3,2357.2 L792.1,2369.1 Z" fill="#000"/>
<path d="M842.4,2357.2 L856.8,2357.2 L849.6,2369.1 Z" fill="#000"/>
<path d="M924.8,2357.2 L939.2,2357.2 L932.0,2369.1 Z" fill="#000"/>
<path d="M1023.1,2357.2 L1037.5,2357.2 L1030.3,2369.1 Z" fill="#000"/>
<path d="M1149.4,2357.2 L1163.8,2357.2 L1156.6,2369.1 Z" fill="#000"/>
<line x1="183" y1="19" x2="1167" y2="19" stroke="#000" stroke-width="2" stroke-linecap="square"/>
<line x1="306.0" y1="19" x2="306.0" y2="34" stroke="#000" stroke-width="2" stroke-linecap="square"/>
<line x1="429.0" y1="19" x2="429.0" y2="34" stroke="#000" stroke-width="2" stroke-linecap="square"/>
<line x1="552.0" y1="19" x2="552.0" y2="34" stroke="#000" stroke-width="2" stroke-linecap="square"/>
<line x1="675.0" y1="19" x2="675.0" y2="34" stroke="#000" stroke-width="2" stroke-linecap="square"/>
<line x1="798.0" y1="19" x2="798.0" y2="34" stroke="#000" stroke-width="2" stroke-linecap="square"/>
<line x1="921.0" y1="19" x2="921.0" y2="34" stroke="#000" stroke-width="2" stroke-linecap="square"/>
<line x1="1044.0" y1="19" x2="1044.0" y2="34" stroke="#000" stroke-width="2" stroke-linecap="square"/>
<line x1="1167.0" y1="19" x2="1167.0" y2="34" stroke="#000" stroke-width="2" stroke-linecap="square"/>
<line x1="183" y1="19" x2="183" y2="314.3" stroke="#000" stroke-width="2" stroke-linecap="square"/>
<line x1="163" y1="19" x2="183" y2="19" stroke="#000" stroke-width="2" stroke-linecap="square"/>
<text x="159.7" y="33.0" font-size="40" text-anchor="end" fill="#000" font-weight="normal" >-32</text>
<line x1="163" y1="92.7" x2="183" y2="92.7" stroke="#000" stroke-width="2" stroke-linecap="square"/>
<text x="159.7" y="106.7" font-size="40" text-anchor="end" fill="#000" font-weight="normal" >-36</text>
<line x1="163" y1="166.6" x2="183" y2="166.6" stroke="#000" stroke-width="2" stroke-linecap="square"/>
<text x="159.7" y="180.6" font-size="40" text-anchor="end" fill="#000" font-weight="normal" >-40</text>
<line x1="163" y1="240.3" x2="183" y2="240.3" stroke="#000" stroke-width="2" stroke-linecap="square"/>
<text x="159.7" y="254.3" font-size="40" text-anchor="end" fill="#000" font-weight="normal" >-44</text>
<line x1="163" y1="314.3" x2="183" y2="314.3" stroke="#000" stroke-width="2" stroke-linecap="square"/>
<text x="159.7" y="328.3" font-size="40" text-anchor="end" fill="#000" font-weight="normal" >-48</text>
<line x1="1166.5" y1="265" x2="1166.5" y2="560.3" stroke="#000" stroke-width="2" stroke-linecap="square"/>
<line x1="1166.5" y1="265" x2="1186.7" y2="265" stroke="#000" stroke-width="2" stroke-linecap="square"/>
<text x="1190.2" y="279.0" font-size="40" text-anchor="start" fill="#000" font-weight="normal" >20</text>
<line x1="1166.5" y1="338.9" x2="1186.7" y2="338.9" stroke="#000" stroke-width="2" stroke-linecap="square"/>
<text x="1190.2" y="352.9" font-size="40" text-anchor="start" fill="#000" font-weight="normal" >27</text>
<line x1="1166.5" y1="412.4" x2="1186.7" y2="412.4" stroke="#000" stroke-width="2" stroke-linecap="square"/>
<text x="1190.2" y="426.4" font-size="40" text-anchor="start" fill="#000" font-weight="normal" >34</text>
<line x1="1166.5" y1="486.3" x2="1186.7" y2="486.3" stroke="#000" stroke-width="2" stroke-linecap="square"/>
<text x="1190.2" y="500.3" font-size="40" text-anchor="start" fill="#000" font-weight="normal" >41</text>
<line x1="1166.5" y1="560.3" x2="1186.7" y2="560.3" stroke="#000" stroke-width="2" stroke-linecap="square"/>
<text x="1190.2" y="574.3" font-size="40" text-anchor="start" fill="#000" font-weight="normal" >48</text>
<line x1="183" y1="511.1" x2="183" y2="805.7" stroke="#000" stroke-width="2" stroke-linecap="square"/>
<line x1="163" y1="511.1" x2="183" y2="511.1" stroke="#000" stroke-width="2" stroke-linecap="square"/>
<text x="159.7" y="525.1" font-size="40" text-anchor="end" fill="#000" font-weight="normal" >-10</text>
<line x1="163" y1="584.8" x2="183" y2="584.8" stroke="#000" stroke-width="2" stroke-linecap="square"/>
<text x="159.7" y="598.8" font-size="40" text-anchor="end" fill="#000" font-weight="normal" >-9</text>
<line x1="163" y1="658.2" x2="183" y2="658.2" stroke="#000" stroke-width="2" stroke-linecap="square"/>
<text x="159.7" y="672.2" font-size="40" text-anchor="end" fill="#000" font-weight="normal" >-8</text>
<line x1="163" y1="732.2" x2="183" y2="732.2" stroke="#000" stroke-width="2" stroke-linecap="square"/>
<text x="159.7" y="746.2" font-size="40" text-anchor="end" fill="#000" font-weight="normal" >-7</text>
<line x1="163" y1="805.7" x2="183" y2="805.7" stroke="#000" stroke-width="2" stroke-linecap="square"/>
<text x="159.7" y="819.7" font-size="40" text-anchor="end" fill="#000" font-weight="normal" >-6</text>
<line x1="1166.5" y1="806" x2="1166.5" y2="1101.3" stroke="#000" stroke-width="2" stroke-linecap="square"/>
<line x1="1166.5" y1="806" x2="1186.7" y2="806" stroke="#000" stroke-width="2" stroke-linecap="square"/>
<text x="1190.2" y="820.0" font-size="40" text-anchor="start" fill="#000" font-weight="normal" >0</text>
<line x1="1166.5" y1="880" x2="1186.7" y2="880" stroke="#000" stroke-width="2" stroke-linecap="square"/>
<text x="1190.2" y="894.0" font-size="40" text-anchor="start" fill="#000" font-weight="normal" >1</text>
<line x1="1166.5" y1="953.4" x2="1186.7" y2="953.4" stroke="#000" stroke-width="2" stroke-linecap="square"/>
<text x="1190.2" y="967.4" font-size="40" text-anchor="start" fill="#000" font-weight="normal" >2</text>
<line x1="1166.5" y1="1027.4" x2="1186.7" y2="1027.4" stroke="#000" stroke-width="2" stroke-linecap="square"/>
<text x="1190.2" y="1041.4" font-size="40" text-anchor="start" fill="#000" font-weight="normal" >3</text>
<line x1="1166.5" y1="1101.3" x2="1186.7" y2="1101.3" stroke="#000" stroke-width="2" stroke-linecap="square"/>
<text x="1190.2" y="1115.3" font-size="40" text-anchor="start" fill="#000" font-weight="normal" >4</text>
<line x1="183" y1="993.5" x2="183" y2="1288.5" stroke="#000" stroke-width="2" stroke-linecap="square"/>
<line x1="163" y1="993.5" x2="183" y2="993.5" stroke="#000" stroke-width="2" stroke-linecap="square"/>
<text x="159.7" y="1007.5" font-size="40" text-anchor="end" fill="#000" font-weight="normal" >0</text>
<line x1="163" y1="1091.8" x2="183" y2="1091.8" stroke="#000" stroke-width="2" stroke-linecap="square"/>
<text x="159.7" y="1105.8" font-size="40" text-anchor="end" fill="#000" font-weight="normal" >1</text>
<line x1="163" y1="1190.2" x2="183" y2="1190.2" stroke="#000" stroke-width="2" stroke-linecap="square"/>
<text x="159.7" y="1204.2" font-size="40" text-anchor="end" fill="#000" font-weight="normal" >2</text>
<line x1="163" y1="1288.5" x2="183" y2="1288.5" stroke="#000" stroke-width="2" stroke-linecap="square"/>
<text x="159.7" y="1302.5" font-size="40" text-anchor="end" fill="#000" font-weight="normal" >3</text>
<line x1="1166.5" y1="1194" x2="1166.5" y2="1489.5" stroke="#000" stroke-width="2" stroke-linecap="square"/>
<line x1="1166.5" y1="1194" x2="1186.7" y2="1194" stroke="#000" stroke-width="2" stroke-linecap="square"/>
<text x="1190.2" y="1208.0" font-size="40" text-anchor="start" fill="#000" font-weight="normal" >8</text>
<line x1="1166.5" y1="1268" x2="1186.7" y2="1268" stroke="#000" stroke-width="2" stroke-linecap="square"/>
<text x="1190.2" y="1282.0" font-size="40" text-anchor="start" fill="#000" font-weight="normal" >7</text>
<line x1="1166.5" y1="1341.6" x2="1186.7" y2="1341.6" stroke="#000" stroke-width="2" stroke-linecap="square"/>
<text x="1190.2" y="1355.6" font-size="40" text-anchor="start" fill="#000" font-weight="normal" >6</text>
<line x1="1166.5" y1="1415.5" x2="1186.7" y2="1415.5" stroke="#000" stroke-width="2" stroke-linecap="square"/>
<text x="1190.2" y="1429.5" font-size="40" text-anchor="start" fill="#000" font-weight="normal" >5</text>
<line x1="1166.5" y1="1489.5" x2="1186.7" y2="1489.5" stroke="#000" stroke-width="2" stroke-linecap="square"/>
<text x="1190.2" y="1503.5" font-size="40" text-anchor="start" fill="#000" font-weight="normal" >4</text>
<line x1="183" y1="1521.4" x2="183" y2="1816" stroke="#000" stroke-width="2" stroke-linecap="square"/>
<line x1="163" y1="1521.4" x2="183" y2="1521.4" stroke="#000" stroke-width="2" stroke-linecap="square"/>
<text x="159.7" y="1535.4" font-size="40" text-anchor="end" fill="#000" font-weight="normal" >-14</text>
<line x1="163" y1="1668.6" x2="183" y2="1668.6" stroke="#000" stroke-width="2" stroke-linecap="square"/>
<text x="159.7" y="1682.6" font-size="40" text-anchor="end" fill="#000" font-weight="normal" >-16</text>
<line x1="163" y1="1816" x2="183" y2="1816" stroke="#000" stroke-width="2" stroke-linecap="square"/>
<text x="159.7" y="1830.0" font-size="40" text-anchor="end" fill="#000" font-weight="normal" >-18</text>
<line x1="1166.5" y1="1796.1" x2="1166.5" y2="2091.4" stroke="#000" stroke-width="2" stroke-linecap="square"/>
<line x1="1166.5" y1="1796.1" x2="1186.7" y2="1796.1" stroke="#000" stroke-width="2" stroke-linecap="square"/>
<text x="1190.2" y="1810.1" font-size="40" text-anchor="start" fill="#000" font-weight="normal" >0</text>
<line x1="1166.5" y1="1870" x2="1186.7" y2="1870" stroke="#000" stroke-width="2" stroke-linecap="square"/>
<text x="1190.2" y="1884.0" font-size="40" text-anchor="start" fill="#000" font-weight="normal" >-3</text>
<line x1="1166.5" y1="1944" x2="1186.7" y2="1944" stroke="#000" stroke-width="2" stroke-linecap="square"/>
<text x="1190.2" y="1958.0" font-size="40" text-anchor="start" fill="#000" font-weight="normal" >-6</text>
<line x1="1166.5" y1="2017.5" x2="1186.7" y2="2017.5" stroke="#000" stroke-width="2" stroke-linecap="square"/>
<text x="1190.2" y="2031.5" font-size="40" text-anchor="start" fill="#000" font-weight="normal" >-9</text>
<line x1="1166.5" y1="2091.4" x2="1186.7" y2="2091.4" stroke="#000" stroke-width="2" stroke-linecap="square"/>
<text x="1190.2" y="2105.4" font-size="40" text-anchor="start" fill="#000" font-weight="normal" >-12</text>
<line x1="183" y1="2084.5" x2="183" y2="2400" stroke="#000" stroke-width="2" stroke-linecap="square"/>
<line x1="163" y1="2084.5" x2="183" y2="2084.5" stroke="#000" stroke-width="2" stroke-linecap="square"/>
<text x="159.7" y="2098.5" font-size="40" text-anchor="end" fill="#000" font-weight="normal" >0</text>
<line x1="163" y1="2158.3" x2="183" y2="2158.3" stroke="#000" stroke-width="2" stroke-linecap="square"/>
<text x="159.7" y="2172.3" font-size="40" text-anchor="end" fill="#000" font-weight="normal" >-40</text>
<line x1="163" y1="2232.1" x2="183" y2="2232.1" stroke="#000" stroke-width="2" stroke-linecap="square"/>
<text x="159.7" y="2246.1" font-size="40" text-anchor="end" fill="#000" font-weight="normal" >-80</text>
<line x1="163" y1="2305.8" x2="183" y2="2305.8" stroke="#000" stroke-width="2" stroke-linecap="square"/>
<text x="159.7" y="2319.8" font-size="40" text-anchor="end" fill="#000" font-weight="normal" >-120</text>
<line x1="163" y1="2379.6" x2="183" y2="2379.6" stroke="#000" stroke-width="2" stroke-linecap="square"/>
<text x="159.7" y="2393.6" font-size="40" text-anchor="end" fill="#000" font-weight="normal" >-160</text>
<line x1="183" y1="2379.6" x2="1167" y2="2379.6" stroke="#000" stroke-width="2" stroke-linecap="square"/>
<line x1="183.0" y1="2379.6" x2="183.0" y2="2399.5" stroke="#000" stroke-width="2" stroke-linecap="square"/>
<line x1="215.8" y1="2379.6" x2="215.8" y2="2390" stroke="#000" stroke-width="2" stroke-linecap="square"/>
<line x1="248.6" y1="2379.6" x2="248.6" y2="2390" stroke="#000" stroke-width="2" stroke-linecap="square"/>
<line x1="281.4" y1="2379.6" x2="281.4" y2="2390" stroke="#000" stroke-width="2" stroke-linecap="square"/>
<line x1="314.2" y1="2379.6" x2="314.2" y2="2390" stroke="#000" stroke-width="2" stroke-linecap="square"/>
<line x1="347.0" y1="2379.6" x2="347.0" y2="2390" stroke="#000" stroke-width="2" stroke-linecap="square"/>
<line x1="379.8" y1="2379.6" x2="379.8" y2="2390" stroke="#000" stroke-width="2" stroke-linecap="square"/>
<line x1="412.6" y1="2379.6" x2="412.6" y2="2390" stroke="#000" stroke-width="2" stroke-linecap="square"/>
<line x1="445.4" y1="2379.6" x2="445.4" y2="2390" stroke="#000" stroke-width="2" stroke-linecap="square"/>
<line x1="478.2" y1="2379.6" x2="478.2" y2="2390" stroke="#000" stroke-width="2" stroke-linecap="square"/>
<line x1="511.0" y1="2379.6" x2="511.0" y2="2399.5" stroke="#000" stroke-width="2" stroke-linecap="square"/>
<line x1="543.8" y1="2379.6" x2="543.8" y2="2390" stroke="#000" stroke-width="2" stroke-linecap="square"/>
<line x1="576.6" y1="2379.6" x2="576.6" y2="2390" stroke="#000" stroke-width="2" stroke-linecap="square"/>
<line x1="609.4" y1="2379.6" x2="609.4" y2="2390" stroke="#000" stroke-width="2" stroke-linecap="square"/>
<line x1="642.2" y1="2379.6" x2="642.2" y2="2390" stroke="#000" stroke-width="2" stroke-linecap="square"/>
<line x1="675.0" y1="2379.6" x2="675.0" y2="2390" stroke="#000" stroke-width="2" stroke-linecap="square"/>
<line x1="707.8" y1="2379.6" x2="707.8" y2="2390" stroke="#000" stroke-width="2" stroke-linecap="square"/>
<line x1="740.6" y1="2379.6" x2="740.6" y2="2390" stroke="#000" stroke-width="2" stroke-linecap="square"/>
<line x1="773.4" y1="2379.6" x2="773.4" y2="2390" stroke="#000" stroke-width="2" stroke-linecap="square"/>
<line x1="806.2" y1="2379.6" x2="806.2" y2="2390" stroke="#000" stroke-width="2" stroke-linecap="square"/>
<line x1="839.0" y1="2379.6" x2="839.0" y2="2399.5" stroke="#000" stroke-width="2" stroke-linecap="square"/>
<line x1="871.8" y1="2379.6" x2="871.8" y2="2390" stroke="#000" stroke-width="2" stroke-linecap="square"/>
<line x1="904.6" y1="2379.6" x2="904.6" y2="2390" stroke="#000" stroke-width="2" stroke-linecap="square"/>
<line x1="937.4" y1="2379.6" x2="937.4" y2="2390" stroke="#000" stroke-width="2" stroke-linecap="square"/>
<line x1="970.2" y1="2379.6" x2="970.2" y2="2390" stroke="#000" stroke-width="2" stroke-linecap="square"/>
<line x1="1003.0" y1="2379.6" x2="1003.0" y2="2390" stroke="#000" stroke-width="2" stroke-linecap="square"/>
<line x1="1035.8" y1="2379.6" x2="1035.8" y2="2390" stroke="#000" stroke-width="2" stroke-linecap="square"/>
<line x1="1068.6" y1="2379.6" x2="1068.6" y2="2390" stroke="#000" stroke-width="2" stroke-linecap="square"/>
<line x1="1101.4" y1="2379.6" x2="1101.4" y2="2390" stroke="#000" stroke-width="2" stroke-linecap="square"/>
<line x1="1134.2" y1="2379.6" x2="1134.2" y2="2390" stroke="#000" stroke-width="2" stroke-linecap="square"/>
<line x1="1167.0" y1="2379.6" x2="1167.0" y2="2399.5" stroke="#000" stroke-width="2" stroke-linecap="square"/>
<text x="183.0" y="2439.3" font-size="40" text-anchor="middle" fill="#000" font-weight="normal" >0</text>
<text x="513.0" y="2439.3" font-size="40" text-anchor="middle" fill="#000" font-weight="normal" letter-spacing="-1">10,000</text>
<text x="839.5" y="2439.3" font-size="40" text-anchor="middle" fill="#000" font-weight="normal" letter-spacing="-1">20,000</text>
<text x="1167.5" y="2439.3" font-size="40" text-anchor="middle" fill="#000" font-weight="normal" letter-spacing="-1">30,000</text>
<text x="675" y="2489.8" font-size="46" text-anchor="middle" fill="#000" font-weight="normal" >Age (yr BP)</text>
<text x="191" y="61" font-size="45" text-anchor="start" fill="#000" font-weight="bold" >a</text>
<text x="191" y="268" font-size="45" text-anchor="start" fill="#000" font-weight="bold" >b</text>
<text x="191" y="506" font-size="45" text-anchor="start" fill="#000" font-weight="bold" >c</text>
<text x="191" y="811.5" font-size="45" text-anchor="start" fill="#000" font-weight="bold" >d</text>
<text x="191" y="998" font-size="45" text-anchor="start" fill="#000" font-weight="bold" >e</text>
<text x="191" y="1333.5" font-size="45" text-anchor="start" fill="#000" font-weight="bold" >f</text>
<text x="191" y="1650" font-size="45" text-anchor="start" fill="#000" font-weight="bold" >g</text>
<text x="191" y="2020.5" font-size="45" text-anchor="start" fill="#000" font-weight="bold" >h</text>
<text x="191" y="2135.8" font-size="45" text-anchor="start" fill="#000" font-weight="bold" >i</text>
<text x="610.5" y="79.1" font-size="45.5" text-anchor="start" fill="#1000F8" font-weight="normal" >BA</text>
<text x="671.8" y="79.1" font-size="45.5" text-anchor="start" fill="#000" font-weight="normal" >H1</text>
<text x="952.6" y="133" font-size="45.5" text-anchor="end" fill="#1000F8" font-weight="normal" >DO2</text>
<text x="952.2" y="79.1" font-size="45.5" text-anchor="start" fill="#000" font-weight="normal" >H2</text>
<text x="1079.2" y="133" font-size="45.5" text-anchor="start" fill="#1000F8" font-weight="normal" >34</text>
<text x="1123.4" y="79.1" font-size="45.5" text-anchor="start" fill="#000" font-weight="normal" >H3</text>
<text x="0" y="0" font-size="45.2" text-anchor="middle" fill="#000" font-weight="normal" transform="translate(41.8,167.7) rotate(-90)">δ<tspan font-size="27" dy="-14.5">18</tspan><tspan dy="14.5">​</tspan>O (‰ SMOW)</text>
<text x="0" y="0" font-size="46" text-anchor="middle" fill="#000" font-weight="normal" transform="translate(91.6,162.6) rotate(-90)">NGRIP</text>
<text x="0" y="0" font-size="45.4" text-anchor="middle" fill="#000" font-weight="normal" transform="translate(1277.8,411.9) rotate(-90)">Mean grain size (μm)</text>
<text x="0" y="0" font-size="46" text-anchor="middle" fill="#000" font-weight="normal" transform="translate(1328.2,414.4) rotate(-90)">Gulang</text>
<text x="0" y="0" font-size="45.5" text-anchor="middle" fill="#000" font-weight="normal" transform="translate(41.3,657.5) rotate(-90)">δ<tspan font-size="27" dy="-14.5">18</tspan><tspan dy="14.5">​</tspan>O (‰ PDB)</text>
<text x="0" y="0" font-size="46" text-anchor="middle" fill="#000" font-weight="normal" transform="translate(91,664.1) rotate(-90)">Borneo</text>
<text x="0" y="0" font-size="45.4" text-anchor="middle" fill="#000" font-weight="normal" transform="translate(1256,952.5) rotate(-90)">K/Ca Ratio (cps/cps)</text>
<text x="0" y="0" font-size="46" text-anchor="middle" fill="#000" font-weight="normal" transform="translate(1307,953.4) rotate(-90)">CG18</text>
<text x="0" y="0" font-size="46" text-anchor="middle" fill="#000" font-weight="normal" transform="translate(75.1,1143.8) rotate(-90)">Ti/Ca Ratio (cps/cps)</text>
<text x="0" y="0" font-size="46" text-anchor="middle" fill="#000" font-weight="normal" transform="translate(125.8,1140.9) rotate(-90)">CG18</text>
<text x="0" y="0" font-size="50" text-anchor="middle" fill="#000" font-weight="normal" transform="translate(1264.4,1341.4) rotate(-90)"><tspan font-family="Liberation Serif" font-size="50">χ</tspan><tspan font-size="29" dy="12.4">lf</tspan><tspan dy="-12.4">​</tspan> (10<tspan font-size="30" dy="-14">-8</tspan><tspan dy="14">​</tspan> m<tspan font-size="30" dy="-14">3</tspan><tspan dy="14">​</tspan>·kg<tspan font-size="30" dy="-14">-1</tspan><tspan dy="14">​</tspan>)</text>
<text x="0" y="0" font-size="50" text-anchor="middle" fill="#000" font-weight="normal" transform="translate(1328.2,1341.6) rotate(-90)">CG18</text>
<text x="0" y="0" font-size="46" text-anchor="middle" fill="#000" font-weight="normal" transform="translate(33.8,1670) rotate(-90)">Δ<tspan font-size="26.5" dy="-14">13</tspan><tspan dy="14">​</tspan>C<tspan font-size="27" dy="11">BC–CO2</tspan><tspan dy="-11">​</tspan> (‰)</text>
<text x="0" y="0" font-size="46" text-anchor="middle" fill="#000" font-weight="normal" transform="translate(91.9,1669) rotate(-90)">CG18</text>
<text x="0" y="0" font-size="46" text-anchor="middle" fill="#000" font-weight="normal" transform="translate(1309,1950.4) rotate(-90)"><tspan font-weight="bold" font-size="68">ε</tspan><tspan font-size="28">Nd</tspan></text>
<text x="0" y="0" font-size="46" text-anchor="middle" fill="#000" font-weight="normal" transform="translate(1363.6,1943.7) rotate(-90)">CG18</text>
<text x="0" y="0" font-size="46" text-anchor="middle" fill="#000" font-weight="normal" transform="translate(70.1,2232) rotate(-90)">Sea level (m)</text>
<text x="840.5" y="266.9" font-size="32" text-anchor="end" fill="#FF1A0A" font-weight="normal" >Warm</text>
<text x="839.0" y="341.4" font-size="32" text-anchor="end" fill="#1000F8" font-weight="normal" >Cold</text>
<line x1="853.3" y1="253.2" x2="853.3" y2="335" stroke="#000" stroke-width="2.8"/><path d="M853.30,243.20 L863.20,261.20 Q863.40,263.00 861.70,262.70 Q857.30,258.40 853.30,255.80 Q849.30,258.40 844.90,262.70 Q843.20,263.00 843.40,261.20 Z" fill="#000"/><path d="M853.30,345.00 L863.20,327.00 Q863.40,325.20 861.70,325.50 Q857.30,329.80 853.30,332.40 Q849.30,329.80 844.90,325.50 Q843.20,325.20 843.40,327.00 Z" fill="#000"/>
<text x="860.2" y="576" font-size="32" text-anchor="end" fill="#62262A" font-weight="normal" >EAWM</text>
<rect x="872" y="504.8" width="10.6" height="3.6" fill="#62262A"/>
<rect x="869.5" y="622" width="14.8" height="2.6" fill="#62262A"/><rect x="875.6" y="615.9" width="2.6" height="14.9" fill="#62262A"/>
<line x1="876.5" y1="534.7" x2="876.5" y2="596.7" stroke="#62262A" stroke-width="2.8"/><path d="M876.50,524.70 L886.40,542.70 Q886.60,544.50 884.90,544.20 Q880.50,539.90 876.50,537.30 Q872.50,539.90 868.10,544.20 Q866.40,544.50 866.60,542.70 Z" fill="#62262A"/><path d="M876.50,606.70 L886.40,588.70 Q886.60,586.90 884.90,587.20 Q880.50,591.50 876.50,594.10 Q872.50,591.50 868.10,587.20 Q866.40,586.90 866.60,588.70 Z" fill="#62262A"/>
<text x="864.5" y="779.9" font-size="32" text-anchor="end" fill="#1000F8" font-weight="normal" >Northerly</text>
<text x="861.0" y="814.3" font-size="32" text-anchor="end" fill="#1000F8" font-weight="normal" >moisture</text>
<rect x="873.1" y="726.1" width="11" height="3.6" fill="#1000F8"/>
<rect x="870.8" y="842.3" width="14.8" height="2.6" fill="#1000F8"/><rect x="876.9" y="836.2" width="2.6" height="14.9" fill="#1000F8"/>
<line x1="878.2" y1="755.4" x2="878.2" y2="817.5" stroke="#1000F8" stroke-width="2.8"/><path d="M878.20,745.40 L888.10,763.40 Q888.30,765.20 886.60,764.90 Q882.20,760.60 878.20,758.00 Q874.20,760.60 869.80,764.90 Q868.10,765.20 868.30,763.40 Z" fill="#1000F8"/><path d="M878.20,827.50 L888.10,809.50 Q888.30,807.70 886.60,808.00 Q882.20,812.30 878.20,814.90 Q874.20,812.30 869.80,808.00 Q868.10,807.70 868.30,809.50 Z" fill="#1000F8"/>
<text x="841.2" y="999.6" font-size="32" text-anchor="end" fill="#1000F8" font-weight="normal" >Dry</text>
<text x="841.9" y="1056" font-size="32" text-anchor="end" fill="#FF1A0A" font-weight="normal" >Wet</text>
<line x1="855.1" y1="984.7" x2="855.1" y2="1046.7" stroke="#A01AFF" stroke-width="2.8"/><path d="M855.10,974.70 L865.00,992.70 Q865.20,994.50 863.50,994.20 Q859.10,989.90 855.10,987.30 Q851.10,989.90 846.70,994.20 Q845.00,994.50 845.20,992.70 Z" fill="#A01AFF"/><path d="M855.10,1056.70 L865.00,1038.70 Q865.20,1036.90 863.50,1037.20 Q859.10,1041.50 855.10,1044.10 Q851.10,1041.50 846.70,1037.20 Q845.00,1036.90 845.20,1038.70 Z" fill="#A01AFF"/>
<text x="788.2" y="1196.2" font-size="32" text-anchor="end" fill="#1000F8" font-weight="normal" >Dry</text>
<text x="786.3" y="1286.6" font-size="32" text-anchor="end" fill="#FF1A0A" font-weight="normal" >Wet</text>
<line x1="800" y1="1181.2" x2="800" y2="1278.5" stroke="#FF2212" stroke-width="2.8"/><path d="M800.00,1171.20 L809.90,1189.20 Q810.10,1191.00 808.40,1190.70 Q804.00,1186.40 800.00,1183.80 Q796.00,1186.40 791.60,1190.70 Q789.90,1191.00 790.10,1189.20 Z" fill="#FF2212"/><path d="M800.00,1288.50 L809.90,1270.50 Q810.10,1268.70 808.40,1269.00 Q804.00,1273.30 800.00,1275.90 Q796.00,1273.30 791.60,1269.00 Q789.90,1268.70 790.10,1270.50 Z" fill="#FF2212"/>
<text x="857.7" y="1498.4" font-size="32" text-anchor="end" fill="#1000F8" font-weight="normal" >Dry</text>
<text x="856.3" y="1591.9" font-size="32" text-anchor="end" fill="#FF1A0A" font-weight="normal" >Wet</text>
<line x1="869.6" y1="1483.9" x2="869.6" y2="1583.3" stroke="#000" stroke-width="2.8"/><path d="M869.60,1473.90 L879.50,1491.90 Q879.70,1493.70 878.00,1493.40 Q873.60,1489.10 869.60,1486.50 Q865.60,1489.10 861.20,1493.40 Q859.50,1493.70 859.70,1491.90 Z" fill="#000"/><path d="M869.60,1593.30 L879.50,1575.30 Q879.70,1573.50 878.00,1573.80 Q873.60,1578.10 869.60,1580.70 Q865.60,1578.10 861.20,1573.80 Q859.50,1573.50 859.70,1575.30 Z" fill="#000"/>
<text x="904.3" y="1848.1" font-size="32" text-anchor="end" fill="#1000F8" font-weight="normal" >Open-canopy</text>
<text x="915.4" y="1934.8" font-size="32" text-anchor="end" fill="#FF1A0A" font-weight="normal" >Closed-canopy</text>
<line x1="917.6" y1="1824.8" x2="917.6" y2="1945.7" stroke="#163A33" stroke-width="2.8"/><path d="M917.60,1814.80 L927.50,1832.80 Q927.70,1834.60 926.00,1834.30 Q921.60,1830.00 917.60,1827.40 Q913.60,1830.00 909.20,1834.30 Q907.50,1834.60 907.70,1832.80 Z" fill="#163A33"/><path d="M917.60,1955.70 L927.50,1937.70 Q927.70,1935.90 926.00,1936.20 Q921.60,1940.50 917.60,1943.10 Q913.60,1940.50 909.20,1936.20 Q907.50,1935.90 907.70,1937.70 Z" fill="#163A33"/>
<text x="786.3" y="2154.2" font-size="32" text-anchor="end" fill="#FF1A0A" font-weight="normal" >High</text>
<text x="785.1" y="2276.4" font-size="32" text-anchor="end" fill="#1000F8" font-weight="normal" >Low</text>
<line x1="799" y1="2135.2" x2="799" y2="2271" stroke="#F26522" stroke-width="2.8"/><path d="M799.00,2125.20 L808.90,2143.20 Q809.10,2145.00 807.40,2144.70 Q803.00,2140.40 799.00,2137.80 Q795.00,2140.40 790.60,2144.70 Q788.90,2145.00 789.10,2143.20 Z" fill="#F26522"/><path d="M799.00,2281.00 L808.90,2263.00 Q809.10,2261.20 807.40,2261.50 Q803.00,2265.80 799.00,2268.40 Q795.00,2265.80 790.60,2261.50 Q788.90,2261.20 789.10,2263.00 Z" fill="#F26522"/>
</svg></body></html>
